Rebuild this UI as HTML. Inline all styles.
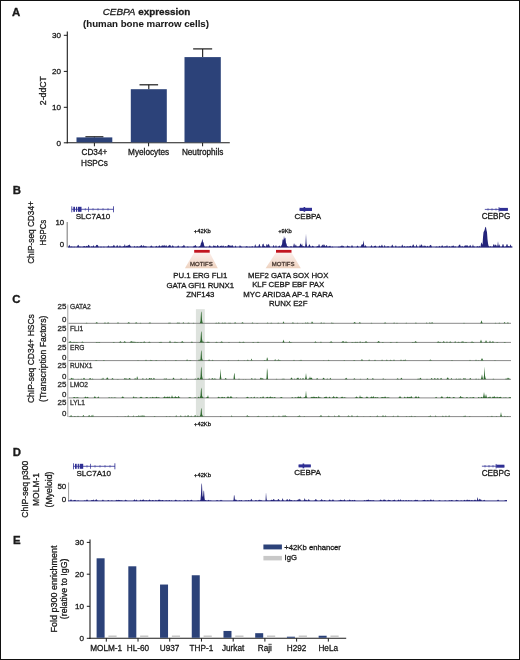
<!DOCTYPE html>
<html><head><meta charset="utf-8"><style>
html,body{margin:0;padding:0;background:#fff;}
body{position:relative;width:520px;height:660px;overflow:hidden;}
svg{display:block;font-family:"Liberation Sans", sans-serif;filter:blur(0.35px);}
#frame{position:absolute;left:0;top:0;width:518px;height:658px;border:1px solid #111;pointer-events:none;}
text{stroke:currentColor;stroke-width:0.3px;paint-order:stroke;}
text[font-weight=bold]{stroke-width:0.08px;}
text.pl{stroke-width:0.35px;}
</style></head><body>
<svg width="520" height="660" viewBox="0 0 520 660">
<defs><linearGradient id="mg" x1="0" y1="0" x2="0" y2="1"><stop offset="0" stop-color="#fcefec"/><stop offset="1" stop-color="#eed3c0"/></linearGradient></defs>
<text x="12.1" y="16.1" font-size="11.4" text-anchor="start" font-weight="bold" font-style="normal" fill="#1a1a1a" style="color:#1a1a1a" class="pl">A</text>
<text x="146.5" y="14.8" font-size="9.9" text-anchor="middle" fill="#1a1a1a" style="color:#1a1a1a"><tspan font-style="italic">CEBPA</tspan><tspan font-weight="bold"> expression</tspan></text>
<text x="146" y="26.6" font-size="9.7" text-anchor="middle" font-weight="bold" font-style="normal" fill="#1a1a1a" style="color:#1a1a1a" >(human bone marrow cells)</text>
<line x1="67.3" y1="31.5" x2="67.3" y2="143.3" stroke="#1a1a1a" stroke-width="1.1"/>
<line x1="63.8" y1="35.3" x2="67.3" y2="35.3" stroke="#1a1a1a" stroke-width="1"/>
<text x="61" y="38.3" font-size="8.1" text-anchor="end" font-weight="normal" font-style="normal" fill="#1a1a1a" style="color:#1a1a1a" >30</text>
<line x1="63.8" y1="71.4" x2="67.3" y2="71.4" stroke="#1a1a1a" stroke-width="1"/>
<text x="61" y="74.4" font-size="8.1" text-anchor="end" font-weight="normal" font-style="normal" fill="#1a1a1a" style="color:#1a1a1a" >20</text>
<line x1="63.8" y1="107.3" x2="67.3" y2="107.3" stroke="#1a1a1a" stroke-width="1"/>
<text x="61" y="110.3" font-size="8.1" text-anchor="end" font-weight="normal" font-style="normal" fill="#1a1a1a" style="color:#1a1a1a" >10</text>
<line x1="63.8" y1="142.8" x2="67.3" y2="142.8" stroke="#1a1a1a" stroke-width="1"/>
<text x="61" y="145.8" font-size="8.1" text-anchor="end" font-weight="normal" font-style="normal" fill="#1a1a1a" style="color:#1a1a1a" >0</text>
<line x1="66.8" y1="142.8" x2="229.8" y2="142.8" stroke="#1a1a1a" stroke-width="1.1"/>
<line x1="94.4" y1="142.8" x2="94.4" y2="146.3" stroke="#1a1a1a" stroke-width="1"/>
<line x1="148.6" y1="142.8" x2="148.6" y2="146.3" stroke="#1a1a1a" stroke-width="1"/>
<line x1="202.6" y1="142.8" x2="202.6" y2="146.3" stroke="#1a1a1a" stroke-width="1"/>
<text transform="translate(46.1,90.65) rotate(-90) scale(0.935,1)" font-size="9.3" text-anchor="middle" font-weight="normal" fill="#1a1a1a" style="color:#1a1a1a">2-ddCT</text>
<line x1="94.4" y1="136.8" x2="94.4" y2="137.4" stroke="#1a1a1a" stroke-width="1.1"/>
<line x1="85.4" y1="136.8" x2="103.4" y2="136.8" stroke="#1a1a1a" stroke-width="1.2"/>
<rect x="76.5" y="137.4" width="35.8" height="4.900000000000006" fill="#2c4279"/>
<line x1="148.8" y1="84.8" x2="148.8" y2="89.2" stroke="#1a1a1a" stroke-width="1.1"/>
<line x1="139.5" y1="84.8" x2="158.10000000000002" y2="84.8" stroke="#1a1a1a" stroke-width="1.2"/>
<rect x="130.8" y="89.2" width="36.0" height="53.10000000000001" fill="#2c4279"/>
<line x1="202.65" y1="48.9" x2="202.65" y2="57.1" stroke="#1a1a1a" stroke-width="1.1"/>
<line x1="193.15" y1="48.9" x2="212.15" y2="48.9" stroke="#1a1a1a" stroke-width="1.2"/>
<rect x="184.5" y="57.1" width="36.30000000000001" height="85.20000000000002" fill="#2c4279"/>
<text x="94.4" y="155.4" font-size="8.2" text-anchor="middle" font-weight="normal" font-style="normal" fill="#1a1a1a" style="color:#1a1a1a" >CD34+</text>
<text x="94.4" y="165.6" font-size="8.2" text-anchor="middle" font-weight="normal" font-style="normal" fill="#1a1a1a" style="color:#1a1a1a" >HSPCs</text>
<text x="148.6" y="155.4" font-size="8.2" text-anchor="middle" font-weight="normal" font-style="normal" fill="#1a1a1a" style="color:#1a1a1a" >Myelocytes</text>
<text x="202.6" y="155.4" font-size="8.2" text-anchor="middle" font-weight="normal" font-style="normal" fill="#1a1a1a" style="color:#1a1a1a" >Neutrophils</text>
<text x="12.8" y="193.7" font-size="11.4" text-anchor="start" font-weight="bold" font-style="normal" fill="#1a1a1a" style="color:#1a1a1a" class="pl">B</text>
<text transform="translate(34.0,232.5) rotate(-90) scale(0.91,1)" font-size="9.1" text-anchor="middle" font-weight="normal" fill="#1a1a1a" style="color:#1a1a1a">ChIP-seq CD34+</text>
<text transform="translate(46.1,232.6) rotate(-90) scale(0.86,1)" font-size="9.1" text-anchor="middle" font-weight="normal" fill="#1a1a1a" style="color:#1a1a1a">HSPCs</text>
<text x="64.2" y="225" font-size="7.8" text-anchor="end" font-weight="normal" font-style="normal" fill="#1a1a1a" style="color:#1a1a1a" >10</text>
<text x="64.2" y="246.9" font-size="7.8" text-anchor="end" font-weight="normal" font-style="normal" fill="#1a1a1a" style="color:#1a1a1a" >0</text>
<line x1="67.2" y1="222" x2="67.2" y2="247.5" stroke="#8a8a8a" stroke-width="1.2"/>
<line x1="71.8" y1="209.3" x2="113.5" y2="209.3" stroke="#2f2f94" stroke-width="0.8"/>
<rect x="71.4" y="206.3" width="0.7999999999999972" height="6" fill="#2f2f94"/>
<rect x="73.3" y="206.8" width="1.7000000000000028" height="5" fill="#2f2f94"/>
<rect x="76.0" y="206.8" width="1.2000000000000028" height="5" fill="#2f2f94"/>
<rect x="78.0" y="206.8" width="3.5" height="5" fill="#2f2f94"/>
<rect x="88.3" y="206.8" width="0.7000000000000028" height="5" fill="#2f2f94"/>
<rect x="113.0" y="206.3" width="0.7999999999999972" height="6" fill="#2f2f94"/>
<line x1="85.3" y1="208.10000000000002" x2="85.3" y2="210.5" stroke="#2f2f94" stroke-width="0.6"/>
<line x1="93" y1="208.10000000000002" x2="93" y2="210.5" stroke="#2f2f94" stroke-width="0.6"/>
<line x1="98" y1="208.10000000000002" x2="98" y2="210.5" stroke="#2f2f94" stroke-width="0.6"/>
<line x1="103" y1="208.10000000000002" x2="103" y2="210.5" stroke="#2f2f94" stroke-width="0.6"/>
<line x1="108" y1="208.10000000000002" x2="108" y2="210.5" stroke="#2f2f94" stroke-width="0.6"/>
<text x="93.0" y="218.7" font-size="8.1" text-anchor="middle" font-weight="normal" font-style="normal" fill="#1a1a1a" style="color:#1a1a1a" >SLC7A10</text>
<line x1="299.6" y1="209.4" x2="312.0" y2="209.4" stroke="#2f2f94" stroke-width="0.8"/>
<rect x="299.6" y="207.8" width="12.399999999999977" height="3.2" fill="#2f2f94"/>
<rect x="303.6" y="207.0" width="1.599999999999966" height="4.8" fill="#2f2f94"/>
<text x="307.8" y="218.6" font-size="8.0" text-anchor="middle" font-weight="normal" font-style="normal" fill="#1a1a1a" style="color:#1a1a1a" >CEBPA</text>
<line x1="484.8" y1="209.4" x2="507.9" y2="209.4" stroke="#2f2f94" stroke-width="0.8"/>
<rect x="499.2" y="207.9" width="8.699999999999989" height="3.0" fill="#2f2f94"/>
<rect x="498.6" y="207.15" width="0.7999999999999545" height="4.5" fill="#2f2f94"/>
<line x1="488" y1="208.20000000000002" x2="488" y2="210.6" stroke="#2f2f94" stroke-width="0.6"/>
<line x1="492" y1="208.20000000000002" x2="492" y2="210.6" stroke="#2f2f94" stroke-width="0.6"/>
<line x1="496" y1="208.20000000000002" x2="496" y2="210.6" stroke="#2f2f94" stroke-width="0.6"/>
<text x="496" y="219" font-size="8.2" text-anchor="middle" font-weight="normal" font-style="normal" fill="#1a1a1a" style="color:#1a1a1a" >CEBPG</text>
<text x="202.3" y="232.6" font-size="5.8" text-anchor="middle" font-weight="normal" font-style="normal" fill="#1a1a1a" style="color:#1a1a1a" >+42Kb</text>
<text x="285.0" y="232.6" font-size="5.8" text-anchor="middle" font-weight="normal" font-style="normal" fill="#1a1a1a" style="color:#1a1a1a" >+9Kb</text>
<path d="M68.0,247.20L68.0,247.15L68.5,246.70L69.0,245.35L69.5,244.87L70.0,246.20L70.5,247.05L71.0,246.83L71.5,246.42L72.0,246.59L72.5,247.03L73.0,247.18L73.5,247.04L74.0,246.66L74.5,246.73L75.0,247.10L75.5,247.19L76.0,247.19L76.5,247.09L77.0,246.66L77.5,245.65L78.0,244.72L78.5,244.96L79.0,246.06L79.5,246.87L80.0,247.15L80.5,246.71L81.0,246.59L81.5,247.13L82.0,247.18L82.5,246.95L83.0,246.42L83.5,246.47L84.0,245.90L84.5,245.99L85.0,246.62L85.5,246.90L86.0,246.19L86.5,245.70L87.0,246.22L87.5,246.58L88.0,245.54L88.5,244.66L89.0,244.96L89.5,246.07L90.0,246.88L90.5,247.15L91.0,247.00L91.5,246.28L92.0,246.32L92.5,246.96L93.0,245.93L93.5,245.12L94.0,246.16L94.5,247.04L95.0,247.10L95.5,246.65L96.0,245.57L96.5,244.71L97.0,245.22L97.5,244.83L98.0,245.57L98.5,246.81L99.0,247.17L99.5,247.19L100.0,247.11L100.5,246.85L101.0,246.64L101.5,246.82L102.0,247.09L102.5,247.19L103.0,247.15L103.5,246.87L104.0,246.61L104.5,246.92L105.0,247.16L105.5,247.20L106.0,247.20L106.5,247.14L107.0,246.78L107.5,246.57L108.0,246.66L108.5,245.18L109.0,245.84L109.5,247.04L110.0,247.04L110.5,246.67L111.0,246.38L111.5,246.61L112.0,246.71L112.5,246.57L113.0,246.35L113.5,245.15L114.0,244.70L114.5,245.68L115.0,246.73L115.5,247.13L116.0,246.98L116.5,246.15L117.0,245.04L117.5,245.28L118.0,246.47L118.5,247.08L119.0,247.02L119.5,246.01L120.0,245.11L120.5,246.22L121.0,246.96L121.5,246.65L122.0,246.69L122.5,246.91L123.0,246.22L123.5,246.07L124.0,246.77L124.5,244.76L125.0,244.22L125.5,246.71L126.0,246.33L126.5,245.63L127.0,245.71L127.5,245.89L128.0,244.89L128.5,245.14L129.0,245.62L129.5,244.32L130.0,245.28L130.5,246.08L131.0,246.84L131.5,247.14L132.0,247.19L132.5,247.20L133.0,247.20L133.5,247.17L134.0,246.68L134.5,245.87L135.0,246.73L135.5,247.18L136.0,247.05L136.5,246.68L137.0,246.28L137.5,246.36L138.0,246.81L138.5,247.10L139.0,246.80L139.5,246.45L140.0,246.53L140.5,245.80L141.0,245.62L141.5,245.07L142.0,245.46L142.5,247.01L143.0,245.69L143.5,244.89L144.0,246.52L144.5,245.86L145.0,246.88L145.5,246.18L146.0,245.66L146.5,246.84L147.0,247.19L147.5,247.20L148.0,247.20L148.5,247.20L149.0,247.20L149.5,247.19L150.0,247.07L150.5,246.45L151.0,245.44L151.5,245.54L152.0,246.57L152.5,246.76L153.0,246.85L153.5,247.05L154.0,247.16L154.5,247.19L155.0,247.11L155.5,246.74L156.0,246.02L156.5,245.77L157.0,246.39L157.5,246.98L158.0,246.99L158.5,246.39L159.0,245.48L159.5,245.23L160.0,245.98L160.5,246.79L161.0,246.83L161.5,246.02L162.0,245.16L162.5,245.27L163.0,246.21L163.5,245.65L164.0,244.84L164.5,245.29L165.0,246.39L165.5,246.08L166.0,244.97L166.5,245.43L167.0,246.64L167.5,247.06L168.0,246.47L168.5,245.62L169.0,245.78L169.5,245.06L170.0,244.66L170.5,245.59L171.0,246.66L171.5,247.06L172.0,246.39L172.5,245.34L173.0,245.47L173.5,246.56L174.0,247.10L174.5,247.19L175.0,247.13L175.5,246.91L176.0,246.73L176.5,246.89L177.0,247.11L177.5,246.53L178.0,245.45L178.5,245.55L179.0,246.64L179.5,247.13L180.0,247.20L180.5,247.20L181.0,247.15L181.5,246.91L182.0,246.38L182.5,246.16L183.0,246.58L183.5,245.37L184.0,244.84L184.5,245.87L185.0,246.87L185.5,247.16L186.0,247.20L186.5,247.18L187.0,247.02L187.5,246.54L188.0,246.42L188.5,246.90L189.0,247.16L189.5,247.20L190.0,247.20L190.5,247.20L191.0,247.20L191.5,247.20L192.0,247.20L192.5,247.20L193.0,247.11L193.5,246.44L194.0,245.53L194.5,246.25L195.0,245.35L195.5,245.00L196.0,245.84L196.5,246.76L197.0,247.13L197.5,247.18L198.0,247.15L198.5,247.06L199.0,246.88L199.5,246.23L200.0,245.89L200.5,245.36L201.0,242.86L201.5,242.50L202.0,240.42L202.5,238.63L203.0,242.24L203.5,242.30L204.0,244.80L204.5,246.57L205.0,246.88L205.5,247.06L206.0,247.11L206.5,246.68L207.0,246.90L207.5,247.18L208.0,247.20L208.5,247.12L209.0,246.62L209.5,245.57L210.0,245.36L210.5,246.38L211.0,247.06L211.5,246.77L212.0,246.97L212.5,247.18L213.0,246.76L213.5,245.29L214.0,245.45L214.5,246.34L215.0,245.44L215.5,246.00L216.0,246.93L216.5,246.73L217.0,245.87L217.5,245.08L218.0,245.31L218.5,246.26L219.0,246.94L219.5,247.09L220.0,246.28L220.5,245.85L221.0,246.02L221.5,245.31L222.0,246.66L222.5,246.18L223.0,245.28L223.5,245.86L224.0,246.85L224.5,246.97L225.0,246.44L225.5,245.95L226.0,246.18L226.5,246.79L227.0,247.12L227.5,246.28L228.0,244.70L228.5,245.21L229.0,244.81L229.5,245.86L230.0,245.50L230.5,245.61L231.0,246.39L231.5,245.87L232.0,244.93L232.5,245.26L233.0,246.37L233.5,247.02L234.0,247.18L234.5,247.13L235.0,246.39L235.5,245.37L236.0,246.40L236.5,247.13L237.0,247.20L237.5,247.20L238.0,247.20L238.5,247.20L239.0,247.15L239.5,246.28L240.0,244.70L240.5,246.28L241.0,246.34L241.5,246.64L242.0,247.00L242.5,247.16L243.0,247.20L243.5,247.20L244.0,247.20L244.5,247.20L245.0,247.17L245.5,247.01L246.0,246.59L246.5,246.15L247.0,246.21L247.5,246.69L248.0,247.06L248.5,247.18L249.0,247.08L249.5,246.75L250.0,246.65L250.5,246.98L251.0,247.17L251.5,247.06L252.0,246.01L252.5,246.19L253.0,247.12L253.5,247.20L254.0,247.18L254.5,246.71L255.0,244.51L255.5,244.61L256.0,246.76L256.5,246.93L257.0,246.31L257.5,246.73L258.0,247.02L258.5,246.16L259.0,244.43L259.5,243.87L260.0,245.38L260.5,246.75L261.0,247.15L261.5,247.19L262.0,246.78L262.5,244.14L263.0,244.08L263.5,243.62L264.0,245.92L264.5,245.85L265.0,246.53L265.5,247.04L266.0,246.40L266.5,244.59L267.0,243.85L267.5,245.52L268.0,245.19L268.5,243.87L269.0,244.21L269.5,245.75L270.0,246.82L270.5,247.15L271.0,247.20L271.5,247.20L272.0,247.20L272.5,247.16L273.0,246.46L273.5,244.82L274.0,245.73L274.5,247.03L275.0,247.16L275.5,246.16L276.0,244.66L276.5,246.59L277.0,247.19L277.5,247.19L278.0,247.06L278.5,246.55L279.0,245.67L279.5,245.40L280.0,246.14L280.5,246.89L281.0,246.71L281.5,245.11L282.0,244.62L282.5,240.20L283.0,239.10L283.5,240.57L284.0,235.70L284.5,239.18L285.0,237.40L285.5,238.20L286.0,242.94L286.5,243.71L287.0,245.91L287.5,246.37L288.0,246.71L288.5,246.93L289.0,247.06L289.5,247.14L290.0,247.02L290.5,246.52L291.0,246.11L291.5,246.46L292.0,246.99L292.5,247.18L293.0,246.95L293.5,245.20L294.0,243.20L294.5,244.37L295.0,246.73L295.5,245.03L296.0,244.56L296.5,246.36L297.0,246.84L297.5,246.47L298.0,246.51L298.5,246.67L299.0,245.90L299.5,246.36L300.0,244.49L300.5,243.20L301.0,244.49L301.5,245.54L302.0,243.20L302.5,245.73L303.0,246.67L303.5,246.12L304.0,246.26L304.5,246.85L305.0,246.99L305.5,243.27L306.0,233.70L306.5,243.27L307.0,245.86L307.5,246.96L308.0,246.99L308.5,246.20L309.0,244.75L309.5,244.17L310.0,245.31L310.5,246.60L311.0,247.11L311.5,246.90L312.0,246.29L312.5,245.71L313.0,245.86L313.5,246.54L314.0,247.02L314.5,247.17L315.0,247.20L315.5,247.20L316.0,247.14L316.5,246.86L317.0,246.24L317.5,245.95L318.0,246.43L318.5,245.61L319.0,243.85L319.5,244.95L320.0,246.72L320.5,247.16L321.0,246.88L321.5,246.06L322.0,245.36L322.5,245.34L323.0,244.37L323.5,244.86L324.0,246.15L324.5,244.32L325.0,245.62L325.5,246.70L326.0,245.69L326.5,244.98L327.0,245.62L327.5,246.66L328.0,247.11L328.5,246.41L329.0,246.33L329.5,246.29L330.0,245.59L330.5,246.15L331.0,246.95L331.5,247.16L332.0,246.80L332.5,246.40L333.0,246.89L333.5,247.18L334.0,247.20L334.5,247.20L335.0,247.20L335.5,247.20L336.0,247.20L336.5,247.20L337.0,247.19L337.5,247.14L338.0,246.98L338.5,246.75L339.0,246.67L339.5,246.86L340.0,247.08L340.5,246.59L341.0,246.08L341.5,246.28L342.0,244.70L342.5,246.28L343.0,246.15L343.5,245.72L344.0,247.01L344.5,247.20L345.0,247.20L345.5,247.20L346.0,247.19L346.5,247.03L347.0,246.14L347.5,245.18L348.0,246.00L348.5,246.77L349.0,245.67L349.5,246.71L350.0,247.19L350.5,247.20L351.0,247.04L351.5,245.95L352.0,244.70L352.5,245.95L353.0,247.04L353.5,247.20L354.0,247.20L354.5,247.20L355.0,247.20L355.5,247.20L356.0,247.19L356.5,247.04L357.0,246.34L357.5,245.50L358.0,245.99L358.5,246.89L359.0,247.17L359.5,247.19L360.0,247.15L360.5,246.88L361.0,246.10L361.5,244.86L362.0,244.20L362.5,244.86L363.0,243.70L363.5,240.20L364.0,243.70L364.5,246.76L365.0,246.11L365.5,245.02L366.0,245.85L366.5,246.94L367.0,247.18L367.5,247.20L368.0,247.20L368.5,247.20L369.0,247.20L369.5,247.20L370.0,247.19L370.5,247.02L371.0,246.11L371.5,245.12L372.0,245.98L372.5,246.98L373.0,247.17L373.5,246.94L374.0,246.29L374.5,246.12L375.0,245.75L375.5,245.46L376.0,246.31L376.5,247.01L377.0,247.18L377.5,247.20L378.0,247.18L378.5,247.01L379.0,246.25L379.5,245.38L380.0,245.82L380.5,246.78L381.0,246.60L381.5,245.31L382.0,244.62L382.5,245.68L383.0,246.81L383.5,247.16L384.0,246.92L384.5,245.04L385.0,245.58L385.5,247.08L386.0,247.17L386.5,246.92L387.0,246.35L387.5,246.39L388.0,246.46L388.5,246.08L389.0,246.97L389.5,247.19L390.0,247.20L390.5,247.20L391.0,247.12L391.5,246.28L392.0,244.70L392.5,244.77L393.0,246.03L393.5,246.98L394.0,247.18L394.5,247.20L395.0,247.09L395.5,245.87L396.0,245.23L396.5,246.84L397.0,247.14L397.5,246.98L398.0,246.76L398.5,246.72L399.0,246.90L399.5,246.51L400.0,246.53L400.5,246.97L401.0,247.13L401.5,246.45L402.0,244.77L402.5,244.68L403.0,246.37L403.5,247.11L404.0,246.68L404.5,245.87L405.0,246.38L405.5,247.08L406.0,247.08L406.5,246.69L407.0,246.14L407.5,246.19L408.0,246.75L408.5,246.80L409.0,246.17L409.5,246.62L410.0,245.99L410.5,245.82L411.0,246.36L411.5,246.92L412.0,246.69L412.5,245.59L413.0,244.40L413.5,244.49L414.0,245.74L414.5,246.76L415.0,247.13L415.5,247.04L416.0,245.75L416.5,244.27L417.0,245.92L417.5,247.08L418.0,247.20L418.5,247.20L419.0,247.15L419.5,246.10L420.0,244.20L420.5,246.10L421.0,245.38L421.5,244.29L422.0,244.84L422.5,246.23L423.0,247.00L423.5,246.28L424.0,245.22L424.5,245.76L425.0,246.78L425.5,245.51L426.0,246.20L426.5,247.11L427.0,246.86L427.5,245.83L428.0,245.94L428.5,246.94L429.0,247.04L429.5,246.21L430.0,244.92L430.5,245.23L431.0,244.70L431.5,246.28L432.0,247.15L432.5,247.20L433.0,247.20L433.5,247.20L434.0,247.20L434.5,247.20L435.0,247.16L435.5,247.00L436.0,246.69L436.5,246.50L437.0,246.69L437.5,247.00L438.0,247.16L438.5,247.11L439.0,246.49L439.5,245.87L440.0,246.62L440.5,247.14L441.0,247.02L441.5,246.32L442.0,245.36L442.5,245.57L443.0,246.58L443.5,247.10L444.0,246.91L444.5,246.47L445.0,246.16L445.5,246.36L446.0,246.81L446.5,246.28L447.0,244.70L447.5,246.28L448.0,247.15L448.5,247.06L449.0,246.50L449.5,246.10L450.0,246.65L450.5,247.11L451.0,247.18L451.5,246.59L452.0,245.39L452.5,246.45L453.0,245.52L453.5,245.59L454.0,246.54L454.5,246.89L455.0,246.31L455.5,246.50L456.0,247.05L456.5,247.19L457.0,247.20L457.5,247.18L458.0,247.00L458.5,246.14L459.0,244.87L459.5,245.04L460.0,244.20L460.5,246.10L461.0,247.15L461.5,246.74L462.0,245.77L462.5,246.21L463.0,247.04L463.5,247.10L464.0,246.73L464.5,245.90L465.0,245.15L465.5,245.37L466.0,246.26L466.5,245.40L467.0,244.86L467.5,245.54L468.0,246.56L468.5,246.75L469.0,246.55L469.5,246.28L470.0,244.70L470.5,245.21L471.0,246.52L471.5,247.12L472.0,247.13L472.5,245.87L473.0,244.20L473.5,246.37L474.0,246.84L474.5,246.52L475.0,246.88L475.5,247.16L476.0,247.20L476.5,247.06L477.0,246.20L477.5,246.04L478.0,246.99L478.5,246.93L479.0,245.76L479.5,246.08L480.0,247.07L480.5,246.91L481.0,243.50L481.5,242.14L482.0,243.68L482.5,244.71L483.0,237.20L483.5,232.20L484.0,231.20L484.5,230.20L485.0,228.20L485.5,226.70L486.0,227.20L486.5,230.20L487.0,232.20L487.5,239.20L488.0,243.20L488.5,245.65L489.0,245.98L489.5,246.92L490.0,246.71L490.5,246.18L491.0,246.36L491.5,246.93L492.0,247.17L492.5,246.91L493.0,245.68L493.5,244.07L494.0,244.66L494.5,245.90L495.0,243.87L495.5,245.16L496.0,245.02L496.5,245.44L497.0,246.64L497.5,244.99L498.0,241.20L498.5,244.99L499.0,246.35L499.5,244.10L500.0,245.88L500.5,247.14L501.0,247.18L501.5,246.87L502.0,246.47L502.5,244.83L503.0,243.70L503.5,244.83L504.0,246.47L504.5,247.10L505.0,246.98L505.5,246.56L506.0,246.18L506.5,244.63L507.0,243.70L507.5,244.63L508.0,246.18L508.5,246.07L509.0,246.29L509.5,246.85L510.0,245.70L510.5,244.20L511.0,245.51L511.5,246.52L512.0,247.13L512.5,247.20L512.5,247.20Z" fill="#23237a"/>
<line x1="68" y1="247.0" x2="512.5" y2="247.0" stroke="#23237a" stroke-width="1.2"/>
<polygon points="194.2,252.6 209.7,252.6 217.8,268.2 184.9,268.2" fill="url(#mg)"/>
<rect x="194.2" y="249.9" width="15.5" height="2.8" fill="#c2141f"/>
<text x="201.35000000000002" y="266.0" font-size="6.0" text-anchor="middle" font-weight="normal" font-style="normal" fill="#4a3b33" style="color:#4a3b33" >MOTIFS</text>
<text x="200.3" y="278.4" font-size="7.8" text-anchor="middle" font-weight="normal" font-style="normal" fill="#1a1a1a" style="color:#1a1a1a" >PU.1 ERG FLI1</text>
<text x="200.3" y="287.75" font-size="7.8" text-anchor="middle" font-weight="normal" font-style="normal" fill="#1a1a1a" style="color:#1a1a1a" >GATA GFI1 RUNX1</text>
<text x="200.3" y="297.09999999999997" font-size="7.8" text-anchor="middle" font-weight="normal" font-style="normal" fill="#1a1a1a" style="color:#1a1a1a" >ZNF143</text>
<polygon points="276.0,252.6 291.5,252.6 300.8,268.2 265.6,268.2" fill="url(#mg)"/>
<rect x="276.0" y="249.9" width="15.5" height="2.8" fill="#c2141f"/>
<text x="283.20000000000005" y="266.0" font-size="6.0" text-anchor="middle" font-weight="normal" font-style="normal" fill="#4a3b33" style="color:#4a3b33" >MOTIFS</text>
<text x="288.2" y="277.8" font-size="7.8" text-anchor="middle" font-weight="normal" font-style="normal" fill="#1a1a1a" style="color:#1a1a1a" >MEF2 GATA SOX HOX</text>
<text x="288.2" y="287.15000000000003" font-size="7.8" text-anchor="middle" font-weight="normal" font-style="normal" fill="#1a1a1a" style="color:#1a1a1a" >KLF CEBP EBF PAX</text>
<text x="288.2" y="296.5" font-size="7.8" text-anchor="middle" font-weight="normal" font-style="normal" fill="#1a1a1a" style="color:#1a1a1a" >MYC ARID3A AP-1 RARA</text>
<text x="288.2" y="305.85" font-size="7.8" text-anchor="middle" font-weight="normal" font-style="normal" fill="#1a1a1a" style="color:#1a1a1a" >RUNX E2F</text>
<text x="12.3" y="302.7" font-size="11.4" text-anchor="start" font-weight="bold" font-style="normal" fill="#1a1a1a" style="color:#1a1a1a" class="pl">C</text>
<text transform="translate(33.7,358.6) rotate(-90) scale(0.893,1)" font-size="9.5" text-anchor="middle" font-weight="normal" fill="#1a1a1a" style="color:#1a1a1a">ChIP-seq CD34+ HSCs</text>
<text transform="translate(45.6,358.8) rotate(-90) scale(0.908,1)" font-size="9.5" text-anchor="middle" font-weight="normal" fill="#1a1a1a" style="color:#1a1a1a">(Transcription Factors)</text>
<rect x="195.9" y="309.2" width="8.9" height="107.8" fill="#dde2dd"/>
<line x1="67.8" y1="304.5" x2="67.8" y2="417" stroke="#9a9a9a" stroke-width="0.9"/>
<text x="66.4" y="309.2" font-size="7.9" text-anchor="end" font-weight="normal" font-style="normal" fill="#2a2a2a" style="color:#2a2a2a" >25</text>
<text x="66.4" y="321.5" font-size="7.9" text-anchor="end" font-weight="normal" font-style="normal" fill="#2a2a2a" style="color:#2a2a2a" >0</text>
<text x="70.0" y="309.2" font-size="6.6" text-anchor="start" font-weight="normal" font-style="normal" fill="#333" style="color:#333" >GATA2</text>
<line x1="68.5" y1="323.3" x2="511" y2="323.3" stroke="#8a8a8a" stroke-width="1.0"/>
<path d="M68.5,323.30L68.5,323.30L69.0,323.30L69.5,323.30L70.0,323.30L70.5,323.30L71.0,323.30L71.5,323.30L72.0,323.30L72.5,323.30L73.0,323.30L73.5,323.30L74.0,323.30L74.5,323.30L75.0,323.30L75.5,323.30L76.0,323.30L76.5,323.30L77.0,323.30L77.5,323.30L78.0,323.30L78.5,323.30L79.0,323.30L79.5,323.30L80.0,323.30L80.5,323.30L81.0,323.30L81.5,323.30L82.0,323.30L82.5,323.30L83.0,323.30L83.5,323.30L84.0,323.30L84.5,323.30L85.0,323.30L85.5,323.28L86.0,323.12L86.5,322.77L87.0,322.87L87.5,323.21L88.0,323.29L88.5,323.30L89.0,323.30L89.5,323.30L90.0,323.30L90.5,323.30L91.0,323.30L91.5,323.30L92.0,323.30L92.5,323.30L93.0,323.30L93.5,323.30L94.0,323.30L94.5,323.30L95.0,323.30L95.5,323.14L96.0,322.44L96.5,322.62L97.0,321.80L97.5,322.99L98.0,323.30L98.5,323.30L99.0,323.30L99.5,323.30L100.0,323.30L100.5,323.30L101.0,323.30L101.5,323.30L102.0,323.30L102.5,323.30L103.0,323.30L103.5,323.27L104.0,323.10L104.5,322.69L105.0,322.51L105.5,322.86L106.0,323.19L106.5,323.26L107.0,323.11L107.5,322.76L108.0,322.43L108.5,322.51L109.0,322.90L109.5,323.18L110.0,323.28L110.5,323.30L111.0,323.30L111.5,323.30L112.0,323.30L112.5,323.30L113.0,323.30L113.5,323.30L114.0,323.30L114.5,323.30L115.0,323.30L115.5,323.30L116.0,323.30L116.5,323.30L117.0,323.30L117.5,322.99L118.0,321.80L118.5,322.99L119.0,323.30L119.5,323.30L120.0,323.30L120.5,323.30L121.0,323.30L121.5,323.30L122.0,323.30L122.5,323.30L123.0,323.30L123.5,323.30L124.0,323.30L124.5,323.30L125.0,323.30L125.5,323.30L126.0,323.30L126.5,323.30L127.0,323.26L127.5,323.08L128.0,322.63L128.5,322.18L129.0,322.28L129.5,322.79L130.0,323.16L130.5,323.28L131.0,323.30L131.5,323.30L132.0,323.30L132.5,323.30L133.0,323.30L133.5,323.30L134.0,323.30L134.5,323.28L135.0,323.14L135.5,322.77L136.0,322.34L136.5,322.40L137.0,322.86L137.5,323.19L138.0,323.28L138.5,323.30L139.0,323.29L139.5,323.19L140.0,322.96L140.5,322.87L141.0,323.08L141.5,323.25L142.0,323.30L142.5,323.30L143.0,323.30L143.5,323.30L144.0,323.30L144.5,323.30L145.0,323.30L145.5,323.30L146.0,323.30L146.5,323.30L147.0,323.30L147.5,323.30L148.0,323.30L148.5,323.20L149.0,322.85L149.5,322.94L150.0,321.80L150.5,322.99L151.0,323.30L151.5,323.30L152.0,323.30L152.5,323.30L153.0,323.30L153.5,323.30L154.0,323.30L154.5,323.30L155.0,323.30L155.5,323.30L156.0,323.30L156.5,323.30L157.0,323.30L157.5,323.30L158.0,323.30L158.5,323.30L159.0,323.30L159.5,323.30L160.0,323.30L160.5,323.30L161.0,323.30L161.5,323.30L162.0,323.30L162.5,323.30L163.0,323.30L163.5,323.30L164.0,323.30L164.5,323.30L165.0,323.30L165.5,323.30L166.0,323.30L166.5,323.30L167.0,323.30L167.5,323.29L168.0,323.19L168.5,322.82L169.0,322.83L169.5,322.89L170.0,322.32L170.5,322.95L171.0,323.28L171.5,323.30L172.0,323.30L172.5,323.30L173.0,323.30L173.5,323.30L174.0,323.30L174.5,323.30L175.0,323.30L175.5,323.30L176.0,323.30L176.5,323.25L177.0,322.83L177.5,322.38L178.0,322.90L178.5,322.63L179.0,322.55L179.5,322.84L180.0,323.15L180.5,323.27L181.0,323.30L181.5,323.30L182.0,323.30L182.5,323.20L183.0,322.58L183.5,322.35L184.0,323.07L184.5,323.29L185.0,323.30L185.5,323.30L186.0,323.30L186.5,323.29L187.0,323.25L187.5,323.10L188.0,322.80L188.5,322.63L189.0,322.80L189.5,323.09L190.0,323.25L190.5,323.29L191.0,323.30L191.5,323.30L192.0,323.30L192.5,323.28L193.0,323.11L193.5,322.83L194.0,323.02L194.5,323.26L195.0,323.30L195.5,323.30L196.0,323.30L196.5,323.30L197.0,323.30L197.5,323.30L198.0,323.30L198.5,323.30L199.0,323.27L199.5,323.13L200.0,322.68L200.5,321.02L201.0,312.79L201.5,311.22L202.0,319.84L202.5,322.54L203.0,323.07L203.5,323.25L204.0,323.29L204.5,323.30L205.0,323.30L205.5,323.30L206.0,323.30L206.5,323.30L207.0,323.30L207.5,323.30L208.0,323.30L208.5,323.30L209.0,323.30L209.5,323.30L210.0,323.30L210.5,323.30L211.0,323.30L211.5,323.30L212.0,323.30L212.5,323.30L213.0,323.30L213.5,323.30L214.0,323.30L214.5,323.29L215.0,323.26L215.5,323.10L216.0,322.85L216.5,322.77L217.0,322.97L217.5,323.20L218.0,322.93L218.5,322.43L219.0,322.43L219.5,322.93L220.0,323.23L220.5,323.29L221.0,323.27L221.5,323.14L222.0,322.85L222.5,322.63L223.0,322.78L223.5,323.09L224.0,323.21L224.5,322.86L225.0,322.55L225.5,322.86L226.0,323.21L226.5,323.29L227.0,323.30L227.5,323.30L228.0,323.29L228.5,323.04L229.0,322.50L229.5,323.07L230.0,322.92L230.5,322.83L231.0,323.06L231.5,323.25L232.0,323.29L232.5,323.30L233.0,323.30L233.5,323.28L234.0,323.14L234.5,322.65L235.0,322.22L235.5,322.58L236.0,323.11L236.5,323.28L237.0,323.30L237.5,323.30L238.0,323.30L238.5,323.30L239.0,323.30L239.5,323.30L240.0,323.30L240.5,323.29L241.0,323.24L241.5,323.00L242.0,322.49L242.5,322.15L243.0,322.46L243.5,322.98L244.0,323.24L244.5,323.29L245.0,323.30L245.5,323.30L246.0,323.30L246.5,323.30L247.0,323.30L247.5,323.30L248.0,323.30L248.5,323.30L249.0,323.30L249.5,323.30L250.0,323.30L250.5,323.30L251.0,323.29L251.5,323.18L252.0,322.78L252.5,322.44L253.0,322.76L253.5,323.17L254.0,323.29L254.5,323.30L255.0,323.30L255.5,323.29L256.0,323.23L256.5,323.07L257.0,322.88L257.5,322.90L258.0,323.09L258.5,323.24L259.0,323.29L259.5,323.30L260.0,323.30L260.5,323.30L261.0,323.30L261.5,323.30L262.0,323.30L262.5,323.30L263.0,323.30L263.5,323.30L264.0,323.30L264.5,323.30L265.0,323.30L265.5,323.30L266.0,323.30L266.5,323.27L267.0,322.95L267.5,322.39L268.0,322.80L268.5,323.24L269.0,323.30L269.5,323.27L270.0,323.14L270.5,322.88L271.0,322.70L271.5,322.85L272.0,323.12L272.5,323.26L273.0,323.30L273.5,323.30L274.0,323.30L274.5,323.30L275.0,323.30L275.5,323.30L276.0,323.30L276.5,323.29L277.0,323.24L277.5,323.03L278.0,322.68L278.5,322.63L279.0,322.94L279.5,323.21L280.0,323.29L280.5,323.30L281.0,323.30L281.5,323.30L282.0,323.30L282.5,323.26L283.0,322.56L283.5,321.30L284.0,322.56L284.5,323.24L285.0,323.30L285.5,323.30L286.0,323.30L286.5,323.30L287.0,323.30L287.5,323.30L288.0,323.30L288.5,323.30L289.0,323.30L289.5,323.30L290.0,323.30L290.5,323.30L291.0,323.29L291.5,323.23L292.0,323.00L292.5,322.61L293.0,322.41L293.5,322.65L294.0,323.03L294.5,323.24L295.0,323.29L295.5,323.30L296.0,323.30L296.5,323.28L297.0,323.05L297.5,322.66L298.0,322.97L298.5,323.27L299.0,323.30L299.5,323.30L300.0,323.30L300.5,323.30L301.0,323.30L301.5,323.29L302.0,323.18L302.5,322.90L303.0,323.00L303.5,323.25L304.0,323.30L304.5,323.30L305.0,323.22L305.5,322.60L306.0,322.46L306.5,323.17L307.0,322.99L307.5,322.41L308.0,322.57L308.5,323.12L309.0,323.29L309.5,323.30L310.0,323.30L310.5,323.30L311.0,323.26L311.5,322.56L312.0,321.30L312.5,322.22L313.0,322.70L313.5,323.27L314.0,323.30L314.5,323.30L315.0,323.30L315.5,323.30L316.0,323.30L316.5,323.30L317.0,323.30L317.5,323.30L318.0,323.30L318.5,323.30L319.0,323.30L319.5,323.29L320.0,323.22L320.5,322.89L321.0,322.42L321.5,322.55L322.0,323.04L322.5,323.26L323.0,323.24L323.5,322.88L324.0,322.54L324.5,322.94L325.0,323.26L325.5,323.30L326.0,323.30L326.5,323.30L327.0,323.30L327.5,323.30L328.0,323.30L328.5,323.30L329.0,323.30L329.5,323.30L330.0,323.30L330.5,323.30L331.0,323.15L331.5,322.53L332.0,322.77L332.5,323.09L333.0,322.86L333.5,322.90L334.0,323.15L334.5,323.28L335.0,323.30L335.5,323.30L336.0,323.30L336.5,323.30L337.0,323.30L337.5,323.30L338.0,323.30L338.5,323.30L339.0,323.30L339.5,323.30L340.0,323.30L340.5,323.30L341.0,323.30L341.5,323.30L342.0,323.30L342.5,323.30L343.0,323.30L343.5,323.30L344.0,323.30L344.5,323.30L345.0,323.30L345.5,323.30L346.0,323.30L346.5,323.30L347.0,323.30L347.5,323.30L348.0,323.30L348.5,323.30L349.0,323.30L349.5,323.30L350.0,323.30L350.5,323.30L351.0,323.30L351.5,323.30L352.0,323.30L352.5,323.30L353.0,323.26L353.5,323.07L354.0,322.59L354.5,322.09L355.0,322.16L355.5,322.70L356.0,323.13L356.5,323.27L357.0,323.30L357.5,323.30L358.0,323.30L358.5,323.23L359.0,322.90L359.5,322.32L360.0,322.27L360.5,322.84L361.0,323.21L361.5,323.29L362.0,323.30L362.5,323.30L363.0,323.30L363.5,323.30L364.0,323.30L364.5,323.30L365.0,323.30L365.5,323.30L366.0,323.30L366.5,323.30L367.0,323.30L367.5,323.30L368.0,323.30L368.5,323.30L369.0,323.30L369.5,323.30L370.0,323.30L370.5,323.27L371.0,323.10L371.5,322.84L372.0,322.93L372.5,323.19L373.0,323.29L373.5,323.30L374.0,323.30L374.5,323.30L375.0,323.30L375.5,323.30L376.0,323.30L376.5,323.30L377.0,323.30L377.5,323.30L378.0,323.30L378.5,323.30L379.0,323.30L379.5,323.30L380.0,323.30L380.5,323.30L381.0,323.30L381.5,323.30L382.0,323.30L382.5,323.30L383.0,323.30L383.5,323.27L384.0,323.10L384.5,322.71L385.0,322.40L385.5,322.59L386.0,323.01L386.5,323.24L387.0,323.29L387.5,323.30L388.0,323.30L388.5,323.30L389.0,323.30L389.5,323.30L390.0,323.30L390.5,323.30L391.0,323.30L391.5,323.30L392.0,323.30L392.5,323.30L393.0,323.26L393.5,323.00L394.0,322.56L394.5,322.69L395.0,323.13L395.5,323.28L396.0,323.22L396.5,322.94L397.0,322.72L397.5,323.00L398.0,323.25L398.5,323.30L399.0,323.30L399.5,323.30L400.0,323.30L400.5,323.30L401.0,323.30L401.5,323.30L402.0,323.30L402.5,323.30L403.0,323.30L403.5,323.30L404.0,323.30L404.5,323.30L405.0,323.30L405.5,323.20L406.0,322.68L406.5,322.73L407.0,323.23L407.5,323.30L408.0,323.30L408.5,323.30L409.0,323.30L409.5,323.30L410.0,323.30L410.5,323.30L411.0,323.30L411.5,323.30L412.0,323.30L412.5,323.30L413.0,323.30L413.5,323.30L414.0,323.30L414.5,323.30L415.0,323.26L415.5,322.85L416.0,322.49L416.5,323.04L417.0,323.29L417.5,323.30L418.0,323.30L418.5,323.30L419.0,323.30L419.5,323.30L420.0,323.30L420.5,323.30L421.0,323.30L421.5,323.30L422.0,323.30L422.5,323.30L423.0,323.30L423.5,323.30L424.0,323.30L424.5,323.30L425.0,323.30L425.5,323.30L426.0,323.18L426.5,322.38L427.0,322.64L427.5,323.26L428.0,323.30L428.5,323.29L429.0,323.15L429.5,322.53L430.0,322.41L430.5,323.06L431.0,323.07L431.5,322.67L432.0,322.36L432.5,322.51L433.0,322.94L433.5,323.21L434.0,323.29L434.5,323.30L435.0,323.30L435.5,323.30L436.0,323.30L436.5,323.30L437.0,323.30L437.5,323.30L438.0,323.30L438.5,323.30L439.0,323.30L439.5,323.30L440.0,323.30L440.5,323.30L441.0,323.30L441.5,323.30L442.0,323.30L442.5,323.30L443.0,323.30L443.5,323.30L444.0,323.30L444.5,323.30L445.0,323.30L445.5,323.30L446.0,323.30L446.5,323.30L447.0,323.30L447.5,323.30L448.0,323.30L448.5,323.30L449.0,323.30L449.5,323.30L450.0,323.30L450.5,323.30L451.0,323.30L451.5,323.30L452.0,323.30L452.5,323.30L453.0,323.30L453.5,323.30L454.0,323.30L454.5,323.30L455.0,323.30L455.5,323.30L456.0,323.30L456.5,323.30L457.0,323.30L457.5,323.30L458.0,323.30L458.5,323.30L459.0,323.30L459.5,323.30L460.0,323.30L460.5,323.30L461.0,323.30L461.5,323.30L462.0,323.30L462.5,323.28L463.0,323.16L463.5,322.94L464.0,322.87L464.5,323.06L465.0,323.24L465.5,323.29L466.0,323.30L466.5,323.30L467.0,323.30L467.5,323.30L468.0,323.30L468.5,323.30L469.0,323.30L469.5,323.30L470.0,323.30L470.5,323.30L471.0,323.30L471.5,323.30L472.0,323.30L472.5,323.30L473.0,323.30L473.5,323.30L474.0,323.30L474.5,323.30L475.0,323.30L475.5,323.30L476.0,323.30L476.5,323.30L477.0,323.30L477.5,323.30L478.0,323.30L478.5,323.30L479.0,323.30L479.5,323.30L480.0,323.29L480.5,323.11L481.0,321.80L481.5,320.30L482.0,321.80L482.5,323.11L483.0,323.29L483.5,323.30L484.0,323.30L484.5,323.30L485.0,323.30L485.5,323.30L486.0,323.30L486.5,323.30L487.0,323.30L487.5,323.30L488.0,323.30L488.5,323.30L489.0,323.30L489.5,323.30L490.0,323.30L490.5,323.30L491.0,323.30L491.5,323.30L492.0,323.30L492.5,323.30L493.0,323.30L493.5,323.30L494.0,323.30L494.5,323.28L495.0,323.09L495.5,322.77L496.0,322.96L496.5,323.24L497.0,323.30L497.5,323.30L498.0,323.28L498.5,323.15L499.0,322.85L499.5,322.82L500.0,323.12L500.5,323.28L501.0,323.30L501.5,323.30L502.0,323.30L502.5,323.30L503.0,323.30L503.5,323.26L504.0,322.86L504.5,322.05L505.0,322.45L505.5,323.16L506.0,323.29L506.5,323.27L507.0,323.08L507.5,322.60L508.0,322.42L508.5,322.85L509.0,323.21L509.5,323.29L510.0,323.30L510.5,323.30L511.0,323.30L511.0,323.30Z" fill="#306a30"/>
<text x="66.4" y="331.3" font-size="7.9" text-anchor="end" font-weight="normal" font-style="normal" fill="#2a2a2a" style="color:#2a2a2a" >25</text>
<text x="66.4" y="342.0" font-size="7.9" text-anchor="end" font-weight="normal" font-style="normal" fill="#2a2a2a" style="color:#2a2a2a" >0</text>
<text x="70.0" y="331.3" font-size="6.6" text-anchor="start" font-weight="normal" font-style="normal" fill="#333" style="color:#333" >FLI1</text>
<line x1="68.5" y1="342.4" x2="511" y2="342.4" stroke="#8a8a8a" stroke-width="1.0"/>
<path d="M68.5,342.40L68.5,342.36L69.0,342.19L69.5,341.70L70.0,341.13L70.5,341.14L71.0,341.71L71.5,342.20L72.0,342.37L72.5,342.37L73.0,342.23L73.5,341.90L74.0,341.71L74.5,341.97L75.0,342.28L75.5,342.33L76.0,342.14L76.5,341.93L77.0,341.99L77.5,342.22L78.0,342.36L78.5,342.40L79.0,342.40L79.5,342.40L80.0,342.40L80.5,342.40L81.0,342.40L81.5,342.31L82.0,341.86L82.5,341.59L83.0,342.10L83.5,342.37L84.0,342.40L84.5,342.40L85.0,342.40L85.5,342.40L86.0,342.40L86.5,342.40L87.0,342.40L87.5,342.40L88.0,342.40L88.5,342.40L89.0,342.40L89.5,342.40L90.0,342.40L90.5,342.40L91.0,342.40L91.5,342.40L92.0,342.40L92.5,342.40L93.0,342.40L93.5,342.40L94.0,342.40L94.5,342.40L95.0,342.40L95.5,342.38L96.0,342.28L96.5,342.07L97.0,341.99L97.5,342.16L98.0,342.34L98.5,342.36L99.0,342.00L99.5,341.91L100.0,342.33L100.5,342.40L101.0,342.40L101.5,342.40L102.0,342.40L102.5,342.40L103.0,342.40L103.5,342.40L104.0,342.40L104.5,342.40L105.0,342.40L105.5,342.40L106.0,342.40L106.5,342.40L107.0,342.40L107.5,342.40L108.0,342.40L108.5,342.40L109.0,342.40L109.5,342.40L110.0,342.40L110.5,342.40L111.0,342.40L111.5,342.40L112.0,342.40L112.5,342.40L113.0,342.35L113.5,342.11L114.0,341.98L114.5,342.23L115.0,342.38L115.5,342.40L116.0,342.40L116.5,342.40L117.0,342.40L117.5,342.40L118.0,342.40L118.5,342.39L119.0,342.32L119.5,342.01L120.0,341.48L120.5,341.33L121.0,341.79L121.5,342.23L122.0,342.38L122.5,342.40L123.0,342.39L123.5,342.28L124.0,341.86L124.5,341.30L125.0,341.33L125.5,341.91L126.0,342.29L126.5,342.39L127.0,342.40L127.5,342.40L128.0,342.40L128.5,342.40L129.0,342.40L129.5,342.36L130.0,342.17L130.5,341.65L131.0,341.10L131.5,341.20L132.0,341.81L132.5,341.79L133.0,341.45L133.5,341.73L134.0,342.17L134.5,341.86L135.0,341.73L135.5,341.98L136.0,342.26L136.5,342.31L137.0,342.13L137.5,341.92L138.0,341.92L138.5,342.13L139.0,342.31L139.5,342.38L140.0,342.31L140.5,342.08L141.0,341.90L141.5,342.07L142.0,342.30L142.5,342.38L143.0,342.25L143.5,341.88L144.0,341.43L144.5,341.46L145.0,341.92L145.5,342.27L146.0,342.38L146.5,342.40L147.0,342.40L147.5,342.40L148.0,342.37L148.5,342.21L149.0,341.87L149.5,341.74L150.0,342.04L150.5,342.31L151.0,342.39L151.5,342.40L152.0,342.40L152.5,342.40L153.0,342.40L153.5,342.40L154.0,342.40L154.5,342.40L155.0,342.40L155.5,342.40L156.0,342.40L156.5,342.40L157.0,342.40L157.5,342.40L158.0,342.40L158.5,342.40L159.0,342.32L159.5,341.99L160.0,342.07L160.5,341.95L161.0,341.63L161.5,341.96L162.0,342.32L162.5,342.39L163.0,342.40L163.5,342.40L164.0,342.40L164.5,342.40L165.0,342.40L165.5,342.40L166.0,342.40L166.5,342.40L167.0,342.40L167.5,342.40L168.0,342.40L168.5,342.40L169.0,342.37L169.5,341.74L170.0,340.60L170.5,341.74L171.0,342.37L171.5,342.40L172.0,342.40L172.5,342.40L173.0,342.40L173.5,342.39L174.0,342.30L174.5,341.90L175.0,341.57L175.5,341.93L176.0,342.15L176.5,341.98L177.0,341.99L177.5,342.17L178.0,342.33L178.5,342.39L179.0,342.40L179.5,342.40L180.0,342.40L180.5,342.37L181.0,342.22L181.5,341.82L182.0,341.36L182.5,341.37L183.0,341.83L183.5,342.22L184.0,342.37L184.5,342.40L185.0,342.40L185.5,342.40L186.0,342.40L186.5,342.40L187.0,342.40L187.5,342.40L188.0,342.40L188.5,342.40L189.0,342.40L189.5,342.40L190.0,342.40L190.5,342.40L191.0,342.35L191.5,341.86L192.0,341.41L192.5,342.11L193.0,342.39L193.5,342.40L194.0,342.40L194.5,342.40L195.0,342.40L195.5,342.40L196.0,342.40L196.5,342.40L197.0,342.40L197.5,342.40L198.0,342.40L198.5,342.40L199.0,342.36L199.5,342.19L200.0,341.66L200.5,340.24L201.0,332.43L201.5,330.95L202.0,339.12L202.5,341.49L203.0,341.63L203.5,341.39L204.0,342.19L204.5,342.39L205.0,342.40L205.5,342.40L206.0,342.39L206.5,342.33L207.0,342.13L207.5,341.84L208.0,341.83L208.5,342.11L209.0,341.81L209.5,342.15L210.0,342.38L210.5,342.40L211.0,342.40L211.5,342.40L212.0,342.40L212.5,342.40L213.0,342.40L213.5,342.40L214.0,342.40L214.5,342.40L215.0,342.40L215.5,342.35L216.0,342.12L216.5,341.83L217.0,341.96L217.5,342.27L218.0,342.39L218.5,342.40L219.0,342.40L219.5,342.40L220.0,342.37L220.5,342.21L221.0,341.83L221.5,341.45L222.0,341.52L222.5,341.95L223.0,342.27L223.5,342.38L224.0,342.40L224.5,342.40L225.0,342.40L225.5,342.40L226.0,342.40L226.5,342.40L227.0,342.40L227.5,342.40L228.0,342.39L228.5,342.22L229.0,341.89L229.5,342.25L230.0,342.40L230.5,342.40L231.0,342.40L231.5,342.40L232.0,342.40L232.5,342.40L233.0,342.40L233.5,342.40L234.0,342.40L234.5,342.40L235.0,342.40L235.5,342.40L236.0,342.40L236.5,342.40L237.0,342.40L237.5,342.40L238.0,342.40L238.5,342.38L239.0,342.21L239.5,341.83L240.0,341.76L240.5,342.13L241.0,342.36L241.5,342.39L242.0,342.35L242.5,342.15L243.0,341.83L243.5,341.81L244.0,342.11L244.5,342.33L245.0,342.39L245.5,342.40L246.0,342.40L246.5,342.40L247.0,342.40L247.5,342.40L248.0,342.40L248.5,342.40L249.0,342.40L249.5,342.40L250.0,342.40L250.5,342.40L251.0,342.40L251.5,342.40L252.0,342.39L252.5,342.31L253.0,342.04L253.5,342.03L254.0,342.30L254.5,342.39L255.0,342.40L255.5,342.40L256.0,342.40L256.5,342.40L257.0,342.34L257.5,342.08L258.0,341.84L258.5,342.07L259.0,342.34L259.5,342.40L260.0,342.40L260.5,342.40L261.0,342.40L261.5,342.40L262.0,342.40L262.5,342.40L263.0,342.40L263.5,342.40L264.0,342.40L264.5,342.40L265.0,342.40L265.5,342.40L266.0,342.40L266.5,342.40L267.0,342.40L267.5,342.40L268.0,342.40L268.5,342.40L269.0,342.40L269.5,342.40L270.0,342.40L270.5,342.40L271.0,342.40L271.5,342.40L272.0,342.40L272.5,342.40L273.0,342.40L273.5,342.40L274.0,342.40L274.5,342.40L275.0,342.40L275.5,342.40L276.0,342.40L276.5,342.40L277.0,342.40L277.5,342.40L278.0,342.40L278.5,342.40L279.0,342.40L279.5,342.40L280.0,342.40L280.5,342.40L281.0,342.40L281.5,342.40L282.0,342.40L282.5,342.35L283.0,341.30L283.5,339.40L284.0,341.30L284.5,342.34L285.0,342.40L285.5,342.40L286.0,342.40L286.5,342.40L287.0,342.40L287.5,342.40L288.0,342.40L288.5,342.38L289.0,341.87L289.5,341.06L290.0,342.04L290.5,341.88L291.0,341.96L291.5,342.19L292.0,342.34L292.5,342.39L293.0,342.40L293.5,342.40L294.0,342.40L294.5,342.40L295.0,342.40L295.5,342.40L296.0,342.40L296.5,342.40L297.0,342.40L297.5,342.40L298.0,342.40L298.5,342.40L299.0,342.40L299.5,342.40L300.0,342.40L300.5,342.40L301.0,342.40L301.5,342.40L302.0,342.40L302.5,342.40L303.0,342.40L303.5,342.40L304.0,342.40L304.5,342.40L305.0,342.40L305.5,342.40L306.0,342.40L306.5,342.40L307.0,342.40L307.5,342.40L308.0,342.40L308.5,342.40L309.0,342.40L309.5,342.40L310.0,342.40L310.5,342.40L311.0,342.40L311.5,342.40L312.0,342.40L312.5,342.40L313.0,342.40L313.5,342.40L314.0,342.40L314.5,342.30L315.0,341.72L315.5,341.33L316.0,341.99L316.5,342.36L317.0,342.40L317.5,342.40L318.0,342.40L318.5,342.40L319.0,342.40L319.5,342.40L320.0,342.38L320.5,342.01L321.0,341.58L321.5,342.20L322.0,342.39L322.5,342.40L323.0,342.40L323.5,342.40L324.0,342.40L324.5,342.40L325.0,342.40L325.5,342.40L326.0,342.40L326.5,342.40L327.0,342.40L327.5,342.40L328.0,342.40L328.5,342.40L329.0,342.40L329.5,342.35L330.0,342.14L330.5,341.63L331.0,341.23L331.5,341.45L332.0,342.00L332.5,342.31L333.0,342.39L333.5,342.40L334.0,342.40L334.5,342.40L335.0,342.40L335.5,342.40L336.0,342.40L336.5,342.40L337.0,342.40L337.5,342.40L338.0,342.40L338.5,342.40L339.0,342.40L339.5,342.40L340.0,342.40L340.5,342.40L341.0,342.39L341.5,342.28L342.0,341.83L342.5,341.29L343.0,341.52L343.5,341.33L344.0,341.52L344.5,342.13L345.0,342.16L345.5,341.75L346.0,341.44L346.5,341.65L347.0,342.09L347.5,342.33L348.0,342.39L348.5,342.40L349.0,342.40L349.5,342.40L350.0,342.40L350.5,342.40L351.0,342.38L351.5,342.25L352.0,341.96L352.5,341.89L353.0,342.16L353.5,342.36L354.0,342.39L354.5,342.30L355.0,342.01L355.5,341.86L356.0,342.14L356.5,342.19L357.0,341.87L357.5,341.97L358.0,342.29L358.5,342.39L359.0,342.40L359.5,342.19L360.0,341.30L360.5,341.69L361.0,342.34L361.5,342.40L362.0,342.32L362.5,341.97L363.0,341.92L363.5,342.29L364.0,342.39L364.5,342.33L365.0,342.07L365.5,341.58L366.0,341.28L366.5,341.57L367.0,342.06L367.5,342.33L368.0,342.39L368.5,342.40L369.0,342.40L369.5,342.40L370.0,342.40L370.5,342.40L371.0,342.40L371.5,342.40L372.0,342.40L372.5,342.40L373.0,342.40L373.5,342.40L374.0,342.40L374.5,342.40L375.0,342.40L375.5,342.40L376.0,342.40L376.5,342.39L377.0,342.33L377.5,342.08L378.0,341.54L378.5,341.08L379.0,341.26L379.5,341.84L380.0,342.24L380.5,342.38L381.0,342.40L381.5,342.39L382.0,342.28L382.5,341.99L383.0,341.93L383.5,342.23L384.0,342.38L384.5,342.40L385.0,342.40L385.5,342.40L386.0,342.40L386.5,342.40L387.0,342.40L387.5,342.40L388.0,342.40L388.5,342.40L389.0,342.40L389.5,342.40L390.0,342.34L390.5,342.09L391.0,341.90L391.5,342.14L392.0,342.36L392.5,342.40L393.0,342.40L393.5,342.40L394.0,342.40L394.5,342.40L395.0,342.40L395.5,342.40L396.0,342.36L396.5,342.04L397.0,341.87L397.5,342.28L398.0,342.40L398.5,342.40L399.0,342.40L399.5,342.40L400.0,342.40L400.5,342.40L401.0,342.40L401.5,342.40L402.0,342.40L402.5,342.40L403.0,342.40L403.5,342.40L404.0,342.40L404.5,342.40L405.0,342.40L405.5,342.40L406.0,342.40L406.5,342.40L407.0,342.40L407.5,342.40L408.0,342.40L408.5,342.40L409.0,342.40L409.5,342.40L410.0,342.40L410.5,342.40L411.0,342.40L411.5,342.39L412.0,342.31L412.5,342.04L413.0,341.99L413.5,342.26L414.0,342.35L414.5,342.14L415.0,341.61L415.5,341.15L416.0,341.37L416.5,341.95L417.0,342.30L417.5,342.39L418.0,342.40L418.5,342.40L419.0,342.40L419.5,342.40L420.0,342.40L420.5,342.40L421.0,342.40L421.5,342.40L422.0,342.40L422.5,342.40L423.0,342.40L423.5,342.40L424.0,342.40L424.5,342.40L425.0,342.40L425.5,342.40L426.0,342.40L426.5,342.40L427.0,342.40L427.5,342.40L428.0,342.40L428.5,342.40L429.0,342.40L429.5,342.40L430.0,342.40L430.5,342.40L431.0,342.40L431.5,342.40L432.0,342.40L432.5,342.40L433.0,342.40L433.5,342.40L434.0,342.40L434.5,342.40L435.0,342.40L435.5,342.40L436.0,342.40L436.5,342.40L437.0,342.34L437.5,341.96L438.0,341.29L438.5,341.44L439.0,342.11L439.5,341.92L440.0,341.79L440.5,341.99L441.0,342.26L441.5,342.38L442.0,342.40L442.5,342.33L443.0,341.96L443.5,341.33L444.0,341.36L444.5,342.00L445.0,342.34L445.5,342.40L446.0,342.38L446.5,341.96L447.0,341.32L447.5,342.14L448.0,342.39L448.5,342.39L449.0,342.28L449.5,341.92L450.0,341.48L450.5,341.56L451.0,342.04L451.5,342.32L452.0,342.39L452.5,342.40L453.0,342.40L453.5,342.40L454.0,342.40L454.5,342.24L455.0,341.20L455.5,341.53L456.0,342.34L456.5,342.40L457.0,342.38L457.5,342.29L458.0,342.07L458.5,341.85L459.0,341.89L459.5,342.13L460.0,342.32L460.5,342.39L461.0,342.34L461.5,341.85L462.0,341.50L462.5,341.63L463.0,341.31L463.5,341.82L464.0,342.28L464.5,342.36L465.0,342.21L465.5,341.98L466.0,341.92L466.5,342.12L467.0,342.31L467.5,342.39L468.0,342.40L468.5,342.40L469.0,342.40L469.5,342.40L470.0,342.40L470.5,342.37L471.0,342.23L471.5,341.82L472.0,341.46L472.5,341.66L473.0,342.04L473.5,342.02L474.0,342.26L474.5,342.38L475.0,342.40L475.5,342.40L476.0,342.40L476.5,342.40L477.0,342.40L477.5,342.40L478.0,342.40L478.5,342.40L479.0,342.40L479.5,342.39L480.0,342.21L480.5,340.90L481.0,339.40L481.5,340.90L482.0,342.21L482.5,342.39L483.0,342.40L483.5,342.40L484.0,342.39L484.5,342.30L485.0,341.98L485.5,341.38L486.0,339.90L486.5,341.36L487.0,341.96L487.5,342.30L488.0,342.39L488.5,342.40L489.0,342.36L489.5,341.66L490.0,340.40L490.5,341.66L491.0,342.36L491.5,342.34L492.0,342.04L492.5,341.43L493.0,341.19L493.5,341.69L494.0,342.21L494.5,342.38L495.0,342.40L495.5,342.40L496.0,342.40L496.5,342.32L497.0,342.02L497.5,342.09L498.0,342.36L498.5,342.40L499.0,342.40L499.5,342.40L500.0,342.40L500.5,342.40L501.0,342.40L501.5,342.40L502.0,342.40L502.5,342.40L503.0,342.40L503.5,342.38L504.0,342.24L504.5,341.95L505.0,342.02L505.5,342.30L506.0,342.39L506.5,342.40L507.0,342.40L507.5,342.40L508.0,342.40L508.5,342.40L509.0,342.40L509.5,342.40L510.0,342.40L510.5,342.40L511.0,342.40L511.0,342.40Z" fill="#306a30"/>
<text x="66.4" y="350.0" font-size="7.9" text-anchor="end" font-weight="normal" font-style="normal" fill="#2a2a2a" style="color:#2a2a2a" >25</text>
<text x="66.4" y="359.6" font-size="7.9" text-anchor="end" font-weight="normal" font-style="normal" fill="#2a2a2a" style="color:#2a2a2a" >0</text>
<text x="70.0" y="350.0" font-size="6.6" text-anchor="start" font-weight="normal" font-style="normal" fill="#333" style="color:#333" >ERG</text>
<line x1="68.5" y1="360.6" x2="511" y2="360.6" stroke="#8a8a8a" stroke-width="1.0"/>
<path d="M68.5,360.60L68.5,360.60L69.0,360.60L69.5,360.60L70.0,360.60L70.5,360.60L71.0,360.60L71.5,360.60L72.0,360.60L72.5,360.60L73.0,360.60L73.5,360.60L74.0,360.60L74.5,360.60L75.0,360.60L75.5,360.60L76.0,360.60L76.5,360.60L77.0,360.60L77.5,360.60L78.0,360.60L78.5,360.60L79.0,360.60L79.5,360.60L80.0,360.60L80.5,360.60L81.0,360.60L81.5,360.60L82.0,360.60L82.5,360.59L83.0,360.54L83.5,360.35L84.0,360.12L84.5,360.13L85.0,360.37L85.5,360.54L86.0,360.59L86.5,360.60L87.0,360.60L87.5,360.60L88.0,360.60L88.5,360.60L89.0,360.60L89.5,360.60L90.0,360.60L90.5,360.60L91.0,360.60L91.5,360.60L92.0,360.60L92.5,360.60L93.0,360.60L93.5,360.60L94.0,360.60L94.5,360.59L95.0,360.52L95.5,360.26L96.0,359.93L96.5,360.01L97.0,360.37L97.5,360.56L98.0,360.60L98.5,360.60L99.0,360.60L99.5,360.60L100.0,360.60L100.5,360.60L101.0,360.60L101.5,360.60L102.0,360.60L102.5,360.57L103.0,360.41L103.5,360.10L104.0,360.06L104.5,360.36L105.0,360.56L105.5,360.60L106.0,360.60L106.5,360.60L107.0,360.60L107.5,360.60L108.0,360.60L108.5,360.60L109.0,360.60L109.5,360.60L110.0,360.60L110.5,360.60L111.0,360.60L111.5,360.60L112.0,360.60L112.5,360.60L113.0,360.60L113.5,360.60L114.0,360.60L114.5,360.60L115.0,360.60L115.5,360.60L116.0,360.60L116.5,360.60L117.0,360.60L117.5,360.60L118.0,360.60L118.5,360.60L119.0,360.60L119.5,360.60L120.0,360.60L120.5,360.60L121.0,360.60L121.5,360.60L122.0,360.60L122.5,360.60L123.0,360.60L123.5,360.60L124.0,360.60L124.5,360.60L125.0,360.60L125.5,360.60L126.0,360.60L126.5,360.60L127.0,360.60L127.5,360.60L128.0,360.60L128.5,360.60L129.0,360.60L129.5,360.60L130.0,360.60L130.5,360.60L131.0,360.60L131.5,360.60L132.0,360.60L132.5,360.60L133.0,360.60L133.5,360.60L134.0,360.60L134.5,360.60L135.0,360.60L135.5,360.60L136.0,360.59L136.5,360.55L137.0,360.39L137.5,360.18L138.0,360.16L138.5,360.36L139.0,360.53L139.5,360.59L140.0,360.60L140.5,360.60L141.0,360.60L141.5,360.60L142.0,360.60L142.5,360.60L143.0,360.60L143.5,360.60L144.0,360.60L144.5,360.58L145.0,360.44L145.5,360.05L146.0,359.80L146.5,360.08L147.0,360.45L147.5,360.58L148.0,360.60L148.5,360.60L149.0,360.60L149.5,360.57L150.0,360.26L150.5,359.85L151.0,360.33L151.5,359.96L152.0,359.93L152.5,360.42L153.0,360.59L153.5,360.60L154.0,360.60L154.5,360.59L155.0,360.52L155.5,360.27L156.0,359.97L156.5,360.02L157.0,360.35L157.5,360.55L158.0,360.59L158.5,360.60L159.0,360.60L159.5,360.60L160.0,360.60L160.5,360.60L161.0,360.60L161.5,360.60L162.0,360.60L162.5,360.60L163.0,360.60L163.5,360.60L164.0,360.60L164.5,360.58L165.0,360.38L165.5,360.12L166.0,360.41L166.5,360.59L167.0,360.60L167.5,360.60L168.0,360.60L168.5,360.60L169.0,360.60L169.5,360.60L170.0,360.60L170.5,360.60L171.0,360.60L171.5,360.60L172.0,360.60L172.5,360.60L173.0,360.60L173.5,360.60L174.0,360.60L174.5,360.57L175.0,360.43L175.5,360.12L176.0,360.02L176.5,360.30L177.0,360.53L177.5,360.59L178.0,360.60L178.5,360.60L179.0,360.60L179.5,360.60L180.0,360.60L180.5,360.60L181.0,360.60L181.5,360.60L182.0,360.60L182.5,360.60L183.0,360.60L183.5,360.60L184.0,360.60L184.5,360.60L185.0,360.60L185.5,360.57L186.0,360.40L186.5,359.92L187.0,359.51L187.5,359.77L188.0,360.30L188.5,360.55L189.0,360.50L189.5,360.30L190.0,360.07L190.5,360.08L191.0,360.31L191.5,360.51L192.0,360.59L192.5,360.60L193.0,360.60L193.5,360.60L194.0,360.60L194.5,360.60L195.0,360.60L195.5,360.60L196.0,360.60L196.5,360.60L197.0,360.60L197.5,360.60L198.0,360.53L198.5,360.11L199.0,359.43L199.5,359.67L200.0,359.98L200.5,359.13L201.0,351.69L201.5,350.09L202.0,358.22L202.5,359.84L203.0,360.37L203.5,360.55L204.0,360.59L204.5,360.60L205.0,360.60L205.5,360.60L206.0,360.60L206.5,360.60L207.0,360.60L207.5,360.58L208.0,360.45L208.5,360.03L209.0,359.56L209.5,359.68L210.0,360.21L210.5,360.52L211.0,360.59L211.5,360.50L212.0,360.13L212.5,359.75L213.0,360.00L213.5,360.44L214.0,360.58L214.5,360.60L215.0,360.60L215.5,360.60L216.0,360.60L216.5,360.60L217.0,360.60L217.5,360.60L218.0,360.60L218.5,360.60L219.0,360.60L219.5,360.60L220.0,360.60L220.5,360.60L221.0,360.60L221.5,360.60L222.0,360.60L222.5,360.60L223.0,360.60L223.5,360.60L224.0,360.60L224.5,360.60L225.0,360.60L225.5,360.60L226.0,360.60L226.5,360.60L227.0,360.60L227.5,360.58L228.0,360.34L228.5,360.08L229.0,360.48L229.5,360.60L230.0,360.60L230.5,360.60L231.0,360.60L231.5,360.60L232.0,360.60L232.5,360.60L233.0,360.60L233.5,360.60L234.0,360.60L234.5,360.60L235.0,360.60L235.5,360.60L236.0,360.60L236.5,360.60L237.0,360.60L237.5,360.52L238.0,360.05L238.5,359.82L239.0,360.39L239.5,360.59L240.0,360.60L240.5,360.60L241.0,360.60L241.5,360.60L242.0,360.60L242.5,360.60L243.0,360.56L243.5,360.40L244.0,360.18L244.5,360.21L245.0,360.43L245.5,360.57L246.0,360.57L246.5,360.43L247.0,360.13L247.5,359.83L248.0,359.87L248.5,360.21L249.0,360.48L249.5,360.58L250.0,360.60L250.5,360.56L251.0,359.86L251.5,358.60L252.0,359.86L252.5,360.56L253.0,360.60L253.5,360.60L254.0,360.60L254.5,360.60L255.0,360.60L255.5,360.60L256.0,360.60L256.5,360.60L257.0,360.60L257.5,360.60L258.0,360.60L258.5,360.60L259.0,360.60L259.5,360.60L260.0,360.60L260.5,360.60L261.0,360.60L261.5,360.60L262.0,360.60L262.5,360.60L263.0,360.59L263.5,360.54L264.0,360.34L264.5,360.01L265.0,359.93L265.5,360.22L266.0,360.49L266.5,360.06L267.0,357.36L267.5,357.95L268.0,360.31L268.5,360.60L269.0,360.60L269.5,360.60L270.0,360.60L270.5,360.60L271.0,360.60L271.5,360.60L272.0,360.60L272.5,360.60L273.0,360.60L273.5,360.58L274.0,360.43L274.5,360.01L275.0,359.50L275.5,359.54L276.0,360.06L276.5,360.46L277.0,360.51L277.5,360.24L278.0,359.77L278.5,359.54L279.0,359.85L279.5,360.31L280.0,360.04L280.5,360.37L281.0,360.58L281.5,360.60L282.0,360.60L282.5,360.60L283.0,360.60L283.5,360.60L284.0,360.60L284.5,360.60L285.0,360.60L285.5,360.60L286.0,360.60L286.5,360.60L287.0,360.60L287.5,360.60L288.0,360.60L288.5,360.60L289.0,360.60L289.5,360.60L290.0,360.60L290.5,360.60L291.0,360.60L291.5,360.60L292.0,360.60L292.5,360.60L293.0,360.58L293.5,360.29L294.0,359.68L294.5,360.13L295.0,360.56L295.5,360.60L296.0,360.60L296.5,360.60L297.0,360.60L297.5,360.60L298.0,360.57L298.5,360.41L299.0,360.17L299.5,360.23L300.0,360.45L300.5,360.10L301.0,359.84L301.5,360.08L302.0,360.44L302.5,360.58L303.0,360.60L303.5,360.60L304.0,360.60L304.5,360.60L305.0,360.60L305.5,360.60L306.0,360.60L306.5,360.60L307.0,360.60L307.5,360.60L308.0,360.60L308.5,360.60L309.0,360.60L309.5,360.60L310.0,360.60L310.5,360.60L311.0,360.60L311.5,360.60L312.0,360.60L312.5,360.60L313.0,360.60L313.5,360.60L314.0,360.60L314.5,360.60L315.0,360.60L315.5,360.60L316.0,360.60L316.5,360.60L317.0,360.60L317.5,360.60L318.0,360.60L318.5,360.60L319.0,360.60L319.5,360.60L320.0,360.60L320.5,360.60L321.0,360.60L321.5,360.60L322.0,360.60L322.5,360.59L323.0,360.53L323.5,360.32L324.0,360.19L324.5,360.38L325.0,360.56L325.5,360.60L326.0,360.60L326.5,360.60L327.0,360.60L327.5,360.55L328.0,360.22L328.5,359.76L329.0,360.06L329.5,360.50L330.0,360.59L330.5,360.60L331.0,360.60L331.5,360.60L332.0,360.60L332.5,360.60L333.0,360.60L333.5,360.60L334.0,360.60L334.5,360.60L335.0,360.60L335.5,360.60L336.0,360.60L336.5,360.60L337.0,360.60L337.5,360.60L338.0,360.60L338.5,360.60L339.0,360.60L339.5,360.60L340.0,360.60L340.5,360.60L341.0,360.60L341.5,360.60L342.0,360.60L342.5,360.60L343.0,360.60L343.5,360.50L344.0,360.01L344.5,360.04L345.0,360.51L345.5,360.60L346.0,360.60L346.5,360.60L347.0,360.60L347.5,360.60L348.0,360.60L348.5,360.60L349.0,360.60L349.5,360.60L350.0,360.60L350.5,360.60L351.0,360.60L351.5,360.60L352.0,360.60L352.5,360.58L353.0,360.49L353.5,360.25L354.0,359.94L354.5,359.90L355.0,360.18L355.5,360.46L356.0,360.57L356.5,360.60L357.0,360.60L357.5,360.60L358.0,360.60L358.5,360.60L359.0,360.60L359.5,360.60L360.0,360.59L360.5,360.49L361.0,360.13L361.5,359.54L362.0,359.32L362.5,359.77L363.0,360.31L363.5,360.54L364.0,360.59L364.5,360.60L365.0,360.60L365.5,360.60L366.0,360.60L366.5,360.60L367.0,360.60L367.5,360.60L368.0,360.55L368.5,360.19L369.0,359.57L369.5,359.78L370.0,360.39L370.5,360.58L371.0,360.60L371.5,360.60L372.0,360.60L372.5,360.60L373.0,360.60L373.5,360.57L374.0,360.39L374.5,359.90L375.0,359.66L375.5,360.08L376.0,360.48L376.5,360.59L377.0,360.60L377.5,360.60L378.0,360.60L378.5,360.60L379.0,360.60L379.5,360.60L380.0,360.60L380.5,360.60L381.0,360.58L381.5,360.20L382.0,359.47L382.5,360.04L383.0,360.55L383.5,360.60L384.0,360.60L384.5,360.60L385.0,360.60L385.5,360.57L386.0,360.35L386.5,359.75L387.0,359.65L387.5,360.24L388.0,360.55L388.5,360.60L389.0,360.56L389.5,360.39L390.0,360.01L390.5,359.71L391.0,359.89L391.5,360.29L392.0,360.53L392.5,360.59L393.0,360.52L393.5,360.02L394.0,359.53L394.5,360.08L395.0,360.53L395.5,360.60L396.0,360.60L396.5,360.60L397.0,360.60L397.5,360.60L398.0,360.60L398.5,360.60L399.0,360.60L399.5,360.60L400.0,360.50L400.5,359.96L401.0,359.51L401.5,360.11L402.0,360.54L402.5,360.55L403.0,360.31L403.5,359.88L404.0,359.81L404.5,360.22L405.0,359.70L405.5,359.53L406.0,360.22L406.5,360.56L407.0,360.60L407.5,360.60L408.0,360.60L408.5,360.60L409.0,360.60L409.5,360.60L410.0,360.60L410.5,360.60L411.0,360.60L411.5,360.60L412.0,360.60L412.5,360.60L413.0,360.60L413.5,360.60L414.0,360.60L414.5,360.60L415.0,360.60L415.5,360.60L416.0,360.60L416.5,360.60L417.0,360.60L417.5,360.60L418.0,360.60L418.5,360.60L419.0,360.60L419.5,360.60L420.0,360.60L420.5,360.60L421.0,360.60L421.5,360.60L422.0,360.60L422.5,360.60L423.0,360.60L423.5,360.60L424.0,360.60L424.5,360.60L425.0,360.60L425.5,360.60L426.0,360.60L426.5,360.60L427.0,360.60L427.5,360.60L428.0,360.60L428.5,360.58L429.0,360.47L429.5,360.13L430.0,359.65L430.5,359.52L431.0,359.93L431.5,360.37L432.0,360.55L432.5,360.60L433.0,360.60L433.5,360.60L434.0,360.60L434.5,360.60L435.0,360.60L435.5,360.60L436.0,360.60L436.5,360.60L437.0,360.60L437.5,360.60L438.0,360.60L438.5,360.60L439.0,360.60L439.5,360.60L440.0,360.60L440.5,360.60L441.0,360.60L441.5,360.60L442.0,360.60L442.5,360.60L443.0,360.60L443.5,360.60L444.0,360.60L444.5,360.60L445.0,360.60L445.5,360.60L446.0,360.60L446.5,360.60L447.0,360.60L447.5,360.60L448.0,360.60L448.5,360.60L449.0,360.60L449.5,360.60L450.0,360.60L450.5,360.56L451.0,360.44L451.5,360.23L452.0,360.11L452.5,360.24L453.0,360.46L453.5,360.57L454.0,360.60L454.5,360.60L455.0,360.60L455.5,360.60L456.0,360.60L456.5,360.60L457.0,360.60L457.5,360.60L458.0,360.60L458.5,360.60L459.0,360.60L459.5,360.60L460.0,360.60L460.5,360.60L461.0,360.60L461.5,360.60L462.0,360.60L462.5,360.60L463.0,360.60L463.5,360.60L464.0,360.60L464.5,360.60L465.0,360.60L465.5,360.60L466.0,360.60L466.5,360.60L467.0,360.60L467.5,360.60L468.0,360.60L468.5,360.60L469.0,360.59L469.5,360.33L470.0,359.76L470.5,360.36L471.0,360.59L471.5,360.60L472.0,360.60L472.5,360.60L473.0,360.60L473.5,360.60L474.0,360.60L474.5,360.60L475.0,360.58L475.5,360.18L476.0,359.55L476.5,360.28L477.0,360.59L477.5,360.53L478.0,360.36L478.5,360.19L479.0,360.26L479.5,360.47L480.0,360.58L480.5,360.53L481.0,360.08L481.5,358.91L482.0,358.10L482.5,358.91L483.0,360.08L483.5,360.53L484.0,360.60L484.5,360.60L485.0,360.60L485.5,360.60L486.0,360.60L486.5,360.60L487.0,360.60L487.5,360.60L488.0,360.60L488.5,360.60L489.0,360.60L489.5,360.60L490.0,360.60L490.5,360.60L491.0,360.60L491.5,360.60L492.0,360.60L492.5,360.60L493.0,360.60L493.5,360.59L494.0,360.52L494.5,360.36L495.0,360.20L495.5,360.26L496.0,360.45L496.5,360.56L497.0,360.60L497.5,360.60L498.0,360.60L498.5,360.60L499.0,360.60L499.5,360.60L500.0,360.60L500.5,360.60L501.0,360.60L501.5,360.60L502.0,360.60L502.5,360.60L503.0,360.60L503.5,360.60L504.0,360.60L504.5,360.60L505.0,360.60L505.5,360.60L506.0,360.60L506.5,360.60L507.0,360.60L507.5,360.60L508.0,360.60L508.5,360.60L509.0,360.60L509.5,360.60L510.0,360.60L510.5,360.60L511.0,360.60L511.0,360.60Z" fill="#306a30"/>
<text x="66.4" y="368.1" font-size="7.9" text-anchor="end" font-weight="normal" font-style="normal" fill="#2a2a2a" style="color:#2a2a2a" >25</text>
<text x="66.4" y="378.5" font-size="7.9" text-anchor="end" font-weight="normal" font-style="normal" fill="#2a2a2a" style="color:#2a2a2a" >0</text>
<text x="70.0" y="368.1" font-size="6.6" text-anchor="start" font-weight="normal" font-style="normal" fill="#333" style="color:#333" >RUNX1</text>
<line x1="68.5" y1="379.3" x2="511" y2="379.3" stroke="#8a8a8a" stroke-width="1.0"/>
<path d="M68.5,379.30L68.5,379.30L69.0,379.30L69.5,379.29L70.0,379.23L70.5,378.90L71.0,378.19L71.5,377.83L72.0,378.38L72.5,378.75L73.0,378.00L73.5,378.85L74.0,379.28L74.5,379.30L75.0,379.30L75.5,379.30L76.0,379.30L76.5,379.30L77.0,379.29L77.5,379.14L78.0,378.80L78.5,378.98L79.0,379.26L79.5,379.30L80.0,379.30L80.5,379.18L81.0,378.65L81.5,378.81L82.0,379.25L82.5,379.24L83.0,378.93L83.5,378.21L84.0,377.80L84.5,378.34L85.0,379.01L85.5,379.26L86.0,379.30L86.5,379.30L87.0,379.30L87.5,379.30L88.0,379.29L88.5,379.22L89.0,378.95L89.5,378.41L90.0,378.03L90.5,378.30L91.0,378.86L91.5,379.19L92.0,379.02L92.5,378.54L93.0,378.81L93.5,379.23L94.0,379.30L94.5,379.30L95.0,379.30L95.5,379.30L96.0,379.30L96.5,379.30L97.0,379.30L97.5,379.30L98.0,379.30L98.5,379.30L99.0,379.30L99.5,379.30L100.0,379.29L100.5,379.21L101.0,378.88L101.5,378.69L102.0,379.02L102.5,378.76L103.0,377.54L103.5,378.53L104.0,379.25L104.5,379.30L105.0,379.30L105.5,379.25L106.0,379.02L106.5,378.38L107.0,377.59L107.5,377.49L108.0,378.20L108.5,378.92L109.0,379.23L109.5,379.29L110.0,379.30L110.5,379.30L111.0,379.28L111.5,379.08L112.0,378.49L112.5,378.08L113.0,378.54L113.5,379.11L114.0,379.28L114.5,379.30L115.0,379.30L115.5,379.30L116.0,379.30L116.5,379.26L117.0,379.11L117.5,378.88L118.0,378.88L118.5,379.12L119.0,379.27L119.5,379.30L120.0,379.30L120.5,379.30L121.0,379.30L121.5,379.30L122.0,379.30L122.5,379.30L123.0,379.30L123.5,379.25L124.0,378.98L124.5,378.34L125.0,378.05L125.5,378.59L126.0,379.08L126.5,378.60L127.0,378.44L127.5,378.89L128.0,379.22L128.5,378.96L129.0,378.34L129.5,377.88L130.0,378.21L130.5,378.86L131.0,379.21L131.5,379.29L132.0,379.30L132.5,379.30L133.0,379.30L133.5,379.30L134.0,379.29L134.5,379.02L135.0,377.78L135.5,378.47L136.0,379.25L136.5,379.11L137.0,376.18L137.5,377.02L138.0,379.23L138.5,379.30L139.0,379.30L139.5,379.30L140.0,379.30L140.5,379.30L141.0,379.30L141.5,379.30L142.0,379.25L142.5,378.57L143.0,378.04L143.5,379.04L144.0,379.29L144.5,379.30L145.0,379.30L145.5,379.24L146.0,378.81L146.5,378.26L147.0,378.76L147.5,379.23L148.0,379.28L148.5,379.12L149.0,378.56L149.5,377.89L150.0,378.01L150.5,378.74L151.0,378.62L151.5,378.12L152.0,378.67L152.5,379.20L153.0,379.12L153.5,378.34L154.0,377.71L154.5,378.46L155.0,379.16L155.5,379.29L156.0,379.30L156.5,379.30L157.0,379.30L157.5,379.30L158.0,379.30L158.5,379.30L159.0,379.30L159.5,379.30L160.0,379.30L160.5,379.30L161.0,379.30L161.5,379.30L162.0,379.30L162.5,379.30L163.0,379.30L163.5,379.22L164.0,378.46L164.5,378.46L165.0,379.13L165.5,378.67L166.0,378.22L166.5,378.47L167.0,379.02L167.5,379.26L168.0,379.22L168.5,379.07L169.0,378.91L169.5,378.91L170.0,379.08L170.5,379.23L171.0,379.29L171.5,379.30L172.0,379.27L172.5,379.02L173.0,378.13L173.5,377.50L174.0,378.26L174.5,379.07L175.0,379.28L175.5,379.30L176.0,379.30L176.5,379.30L177.0,379.30L177.5,379.30L178.0,379.30L178.5,379.30L179.0,379.30L179.5,379.28L180.0,379.13L180.5,378.71L181.0,378.28L181.5,378.43L182.0,378.94L182.5,379.23L183.0,379.29L183.5,379.30L184.0,379.30L184.5,379.30L185.0,379.29L185.5,379.19L186.0,378.89L186.5,378.61L187.0,378.79L187.5,379.13L188.0,379.28L188.5,379.30L189.0,379.30L189.5,379.30L190.0,379.30L190.5,379.30L191.0,379.30L191.5,379.30L192.0,379.30L192.5,379.30L193.0,379.30L193.5,379.30L194.0,379.27L194.5,379.08L195.0,378.65L195.5,378.49L196.0,378.88L196.5,379.21L197.0,379.17L197.5,378.48L198.0,377.54L198.5,378.03L199.0,378.99L199.5,379.06L200.0,378.43L200.5,376.88L201.0,368.16L201.5,366.50L202.0,375.63L202.5,378.24L203.0,378.98L203.5,379.24L204.0,379.29L204.5,379.30L205.0,379.30L205.5,379.30L206.0,379.30L206.5,379.30L207.0,379.30L207.5,379.30L208.0,379.29L208.5,379.10L209.0,378.44L209.5,378.60L210.0,379.19L210.5,379.30L211.0,379.28L211.5,379.00L212.0,378.06L212.5,378.10L213.0,379.02L213.5,379.02L214.0,378.57L214.5,378.45L215.0,378.86L215.5,378.74L216.0,378.87L216.5,379.15L217.0,379.28L217.5,379.30L218.0,379.30L218.5,379.30L219.0,379.30L219.5,379.22L220.0,376.19L220.5,368.60L221.0,376.19L221.5,379.22L222.0,379.30L222.5,379.30L223.0,379.30L223.5,379.30L224.0,379.30L224.5,379.24L225.0,378.78L225.5,377.88L226.0,378.10L226.5,378.98L227.0,379.27L227.5,379.30L228.0,379.30L228.5,379.30L229.0,379.30L229.5,379.30L230.0,379.30L230.5,379.30L231.0,379.30L231.5,379.30L232.0,379.30L232.5,379.30L233.0,379.30L233.5,378.96L234.0,374.17L234.5,372.73L235.0,378.59L235.5,379.29L236.0,379.30L236.5,379.30L237.0,379.30L237.5,379.30L238.0,379.27L238.5,378.91L239.0,378.51L239.5,379.08L240.0,379.29L240.5,379.30L241.0,379.30L241.5,379.30L242.0,379.28L242.5,379.15L243.0,378.90L243.5,378.93L244.0,379.19L244.5,379.29L245.0,379.13L245.5,378.88L246.0,379.05L246.5,379.27L247.0,379.30L247.5,379.30L248.0,379.30L248.5,379.30L249.0,379.30L249.5,379.30L250.0,379.30L250.5,379.30L251.0,379.14L251.5,378.27L252.0,378.06L252.5,379.02L253.0,379.29L253.5,379.27L254.0,379.14L254.5,378.84L255.0,378.58L255.5,378.71L256.0,379.05L256.5,379.24L257.0,379.29L257.5,379.30L258.0,379.30L258.5,379.30L259.0,379.29L259.5,379.21L260.0,378.79L260.5,377.95L261.0,377.54L261.5,378.17L262.0,378.87L262.5,378.18L263.0,378.33L263.5,379.02L264.0,379.27L264.5,379.30L265.0,379.30L265.5,379.30L266.0,379.29L266.5,378.08L267.0,368.06L267.5,370.52L268.0,378.72L268.5,379.30L269.0,379.30L269.5,379.30L270.0,379.30L270.5,379.30L271.0,379.30L271.5,379.30L272.0,379.30L272.5,379.30L273.0,379.30L273.5,379.30L274.0,379.30L274.5,379.30L275.0,379.29L275.5,379.21L276.0,378.90L276.5,378.73L277.0,379.03L277.5,379.26L278.0,379.30L278.5,379.30L279.0,379.30L279.5,379.30L280.0,379.30L280.5,379.30L281.0,379.29L281.5,379.20L282.0,378.84L282.5,378.78L283.0,379.14L283.5,378.71L284.0,378.41L284.5,378.94L285.0,379.26L285.5,379.30L286.0,379.30L286.5,379.30L287.0,379.30L287.5,379.30L288.0,379.30L288.5,379.30L289.0,379.30L289.5,379.30L290.0,379.24L290.5,378.88L291.0,377.98L291.5,377.40L292.0,378.06L292.5,378.93L293.0,379.25L293.5,379.30L294.0,379.14L294.5,378.59L295.0,378.87L295.5,379.26L296.0,379.26L296.5,378.76L297.0,378.21L297.5,378.12L298.0,377.51L298.5,378.11L299.0,378.96L299.5,379.18L300.0,378.64L300.5,378.26L301.0,378.83L301.5,379.24L302.0,379.22L302.5,378.54L303.0,377.70L303.5,378.51L304.0,379.21L304.5,379.25L305.0,379.06L305.5,377.02L306.0,373.10L306.5,377.02L307.0,379.19L307.5,379.24L308.0,379.06L308.5,378.75L309.0,378.60L309.5,378.20L310.0,376.30L310.5,378.20L311.0,377.99L311.5,377.43L312.0,378.24L312.5,379.07L313.0,379.28L313.5,379.30L314.0,379.30L314.5,379.30L315.0,379.30L315.5,379.30L316.0,379.26L316.5,378.83L317.0,377.89L317.5,378.23L318.0,379.10L318.5,379.29L319.0,379.30L319.5,379.30L320.0,379.30L320.5,379.30L321.0,379.30L321.5,379.30L322.0,379.26L322.5,379.02L323.0,378.30L323.5,377.63L324.0,378.00L324.5,378.83L325.0,379.22L325.5,379.28L326.0,379.19L326.5,378.95L327.0,378.65L327.5,378.62L328.0,378.89L328.5,379.16L329.0,379.27L329.5,379.21L330.0,378.15L330.5,377.85L331.0,379.11L331.5,379.30L332.0,379.30L332.5,379.30L333.0,379.30L333.5,379.30L334.0,379.30L334.5,379.30L335.0,379.30L335.5,379.30L336.0,379.30L336.5,379.30L337.0,379.30L337.5,379.30L338.0,379.30L338.5,379.30L339.0,379.30L339.5,379.30L340.0,379.30L340.5,379.30L341.0,379.30L341.5,379.30L342.0,379.30L342.5,379.30L343.0,379.30L343.5,379.30L344.0,379.30L344.5,379.28L345.0,379.09L345.5,378.46L346.0,377.73L346.5,377.94L347.0,378.75L347.5,379.20L348.0,379.29L348.5,379.30L349.0,379.30L349.5,379.30L350.0,379.30L350.5,379.30L351.0,379.30L351.5,379.30L352.0,379.30L352.5,379.30L353.0,379.27L353.5,379.05L354.0,378.50L354.5,378.21L355.0,378.66L355.5,379.14L356.0,379.28L356.5,379.30L357.0,379.30L357.5,379.30L358.0,379.30L358.5,379.30L359.0,379.30L359.5,379.26L360.0,379.04L360.5,378.72L361.0,378.91L361.5,379.22L362.0,379.29L362.5,379.30L363.0,379.30L363.5,379.30L364.0,379.30L364.5,379.30L365.0,379.30L365.5,379.30L366.0,379.30L366.5,379.20L367.0,378.61L367.5,377.94L368.0,378.57L368.5,379.19L369.0,379.30L369.5,379.30L370.0,379.30L370.5,379.30L371.0,379.30L371.5,379.26L372.0,379.00L372.5,378.34L373.0,378.18L373.5,378.82L374.0,379.23L374.5,379.30L375.0,379.30L375.5,379.30L376.0,379.30L376.5,379.30L377.0,379.30L377.5,379.30L378.0,379.30L378.5,379.30L379.0,379.30L379.5,379.30L380.0,379.30L380.5,379.30L381.0,379.30L381.5,379.30L382.0,379.30L382.5,379.15L383.0,378.22L383.5,378.43L384.0,379.22L384.5,379.17L385.0,378.89L385.5,378.88L386.0,379.16L386.5,379.28L387.0,379.30L387.5,379.30L388.0,379.30L388.5,379.30L389.0,379.30L389.5,379.30L390.0,379.30L390.5,379.30L391.0,379.30L391.5,379.30L392.0,379.30L392.5,379.30L393.0,379.30L393.5,379.30L394.0,379.30L394.5,379.30L395.0,379.30L395.5,379.30L396.0,379.29L396.5,379.20L397.0,378.75L397.5,378.16L398.0,378.39L398.5,379.02L399.0,379.27L399.5,379.30L400.0,379.27L400.5,378.98L401.0,378.11L401.5,377.76L402.0,378.61L402.5,379.19L403.0,379.29L403.5,379.30L404.0,379.30L404.5,379.30L405.0,379.30L405.5,379.30L406.0,379.30L406.5,379.30L407.0,379.30L407.5,379.30L408.0,379.30L408.5,379.30L409.0,379.30L409.5,379.30L410.0,379.30L410.5,379.30L411.0,379.30L411.5,379.30L412.0,379.30L412.5,379.30L413.0,379.30L413.5,379.30L414.0,379.30L414.5,379.30L415.0,379.30L415.5,379.30L416.0,379.30L416.5,379.30L417.0,379.23L417.5,378.90L418.0,378.52L418.5,378.78L419.0,379.18L419.5,378.86L420.0,378.00L420.5,377.66L421.0,378.41L421.5,379.09L422.0,379.28L422.5,379.30L423.0,379.30L423.5,379.30L424.0,379.30L424.5,379.30L425.0,379.30L425.5,379.30L426.0,379.23L426.5,378.95L427.0,378.73L427.5,378.99L428.0,379.24L428.5,379.30L429.0,379.30L429.5,379.30L430.0,379.29L430.5,379.19L431.0,378.69L431.5,378.06L432.0,378.35L432.5,379.02L433.0,379.27L433.5,379.21L434.0,378.84L434.5,378.22L435.0,378.10L435.5,378.67L436.0,379.15L436.5,379.09L437.0,378.64L437.5,378.18L438.0,378.27L438.5,378.79L439.0,379.16L439.5,379.28L440.0,379.21L440.5,378.58L441.0,377.65L441.5,378.20L442.0,379.09L442.5,379.29L443.0,379.30L443.5,379.30L444.0,379.30L444.5,379.30L445.0,379.30L445.5,379.30L446.0,379.25L446.5,379.01L447.0,378.32L447.5,377.53L448.0,377.60L448.5,378.42L449.0,379.06L449.5,379.26L450.0,379.30L450.5,379.28L451.0,378.77L451.5,377.85L452.0,378.94L452.5,379.29L453.0,379.30L453.5,379.30L454.0,379.30L454.5,379.30L455.0,379.28L455.5,379.11L456.0,378.64L456.5,378.52L457.0,378.98L457.5,379.21L458.0,379.00L458.5,378.78L459.0,378.83L459.5,378.88L460.0,378.60L460.5,378.65L461.0,378.96L461.5,379.20L462.0,379.28L462.5,379.30L463.0,379.14L463.5,378.18L464.0,377.90L464.5,378.99L465.0,377.97L465.5,378.61L466.0,379.26L466.5,379.30L467.0,379.30L467.5,379.30L468.0,379.30L468.5,379.30L469.0,379.28L469.5,378.97L470.0,377.94L470.5,378.00L471.0,379.01L471.5,379.29L472.0,379.30L472.5,379.30L473.0,379.30L473.5,379.30L474.0,379.30L474.5,379.30L475.0,379.23L475.5,378.90L476.0,378.50L476.5,378.74L477.0,379.17L477.5,379.29L478.0,379.14L478.5,378.79L479.0,378.93L479.5,379.24L480.0,379.30L480.5,379.29L481.0,378.99L481.5,376.80L482.0,374.30L482.5,376.80L483.0,378.99L483.5,379.21L484.0,375.60L484.5,366.60L485.0,375.60L485.5,378.08L486.0,378.89L486.5,379.24L487.0,379.30L487.5,379.30L488.0,379.30L488.5,379.30L489.0,379.30L489.5,379.30L490.0,379.30L490.5,379.30L491.0,379.30L491.5,379.30L492.0,379.29L492.5,379.18L493.0,378.78L493.5,378.65L494.0,379.06L494.5,379.27L495.0,379.30L495.5,379.30L496.0,379.30L496.5,379.30L497.0,379.30L497.5,379.30L498.0,379.30L498.5,379.30L499.0,379.30L499.5,379.30L500.0,379.30L500.5,379.30L501.0,379.30L501.5,379.30L502.0,379.30L502.5,379.30L503.0,379.30L503.5,379.30L504.0,379.30L504.5,379.30L505.0,379.27L505.5,378.95L506.0,378.34L506.5,378.75L507.0,379.09L507.5,378.20L508.0,377.46L508.5,378.32L509.0,378.40L509.5,378.55L510.0,379.22L510.5,379.30L511.0,379.30L511.0,379.30Z" fill="#306a30"/>
<text x="66.4" y="387.1" font-size="7.9" text-anchor="end" font-weight="normal" font-style="normal" fill="#2a2a2a" style="color:#2a2a2a" >25</text>
<text x="66.4" y="396.7" font-size="7.9" text-anchor="end" font-weight="normal" font-style="normal" fill="#2a2a2a" style="color:#2a2a2a" >0</text>
<text x="70.0" y="387.1" font-size="6.6" text-anchor="start" font-weight="normal" font-style="normal" fill="#333" style="color:#333" >LMO2</text>
<line x1="68.5" y1="397.9" x2="511" y2="397.9" stroke="#8a8a8a" stroke-width="1.0"/>
<path d="M68.5,397.90L68.5,397.90L69.0,397.90L69.5,397.90L70.0,397.90L70.5,397.90L71.0,397.90L71.5,397.90L72.0,397.90L72.5,397.89L73.0,397.81L73.5,397.49L74.0,397.06L74.5,397.11L75.0,397.56L75.5,397.83L76.0,397.80L76.5,397.56L77.0,397.29L77.5,397.31L78.0,397.59L78.5,397.81L79.0,397.89L79.5,397.90L80.0,397.90L80.5,397.90L81.0,397.90L81.5,397.90L82.0,397.90L82.5,397.90L83.0,397.90L83.5,397.90L84.0,397.87L84.5,397.64L85.0,397.00L85.5,396.57L86.0,397.06L86.5,397.68L87.0,397.33L87.5,396.70L88.0,397.32L88.5,397.84L89.0,397.90L89.5,397.90L90.0,397.90L90.5,397.90L91.0,397.90L91.5,397.90L92.0,397.90L92.5,397.90L93.0,397.90L93.5,397.88L94.0,397.61L94.5,396.57L95.0,396.23L95.5,397.32L96.0,397.84L96.5,397.90L97.0,397.90L97.5,397.82L98.0,396.85L98.5,396.47L99.0,397.70L99.5,397.90L100.0,397.90L100.5,397.90L101.0,397.90L101.5,397.90L102.0,397.90L102.5,397.90L103.0,397.90L103.5,397.90L104.0,397.90L104.5,397.90L105.0,397.90L105.5,397.90L106.0,397.90L106.5,397.90L107.0,397.90L107.5,397.90L108.0,397.90L108.5,397.79L109.0,397.36L109.5,397.46L110.0,397.84L110.5,397.90L111.0,397.86L111.5,397.43L112.0,397.43L112.5,397.86L113.0,397.90L113.5,397.87L114.0,397.72L114.5,397.46L115.0,397.43L115.5,397.69L116.0,397.86L116.5,397.90L117.0,397.90L117.5,397.90L118.0,397.90L118.5,397.90L119.0,397.90L119.5,397.90L120.0,397.90L120.5,397.90L121.0,397.89L121.5,397.76L122.0,397.21L122.5,396.39L123.0,396.40L123.5,397.22L124.0,397.76L124.5,397.89L125.0,397.90L125.5,397.90L126.0,397.90L126.5,397.90L127.0,397.90L127.5,397.90L128.0,397.90L128.5,397.90L129.0,397.90L129.5,397.90L130.0,397.90L130.5,397.90L131.0,397.90L131.5,397.90L132.0,397.90L132.5,397.89L133.0,397.62L133.5,396.44L134.0,396.47L134.5,397.63L135.0,397.80L135.5,397.53L136.0,397.36L136.5,397.59L137.0,397.83L137.5,397.89L138.0,397.90L138.5,397.90L139.0,397.89L139.5,397.79L140.0,397.47L140.5,396.92L141.0,396.65L141.5,397.01L142.0,397.54L142.5,397.82L143.0,397.89L143.5,397.90L144.0,397.90L144.5,397.90L145.0,397.89L145.5,397.65L146.0,397.04L146.5,397.37L147.0,397.36L147.5,397.22L148.0,397.71L148.5,397.89L149.0,397.90L149.5,397.86L150.0,397.45L150.5,397.29L151.0,397.81L151.5,397.87L152.0,397.49L152.5,396.73L153.0,397.20L153.5,397.57L154.0,397.40L154.5,397.49L155.0,397.73L155.5,397.51L156.0,396.97L156.5,396.68L157.0,397.00L157.5,397.54L158.0,397.69L158.5,397.25L159.0,397.30L159.5,397.74L160.0,397.89L160.5,397.90L161.0,397.90L161.5,397.90L162.0,397.90L162.5,397.90L163.0,397.85L163.5,397.61L164.0,397.00L164.5,396.39L165.0,396.52L165.5,397.21L166.0,397.63L166.5,396.92L167.0,396.74L167.5,397.06L168.0,396.26L168.5,397.57L169.0,396.74L169.5,396.41L170.0,397.41L170.5,397.86L171.0,397.85L171.5,396.80L172.0,394.90L172.5,396.80L173.0,397.33L173.5,397.44L174.0,397.72L174.5,397.23L175.0,396.48L175.5,396.36L176.0,397.05L176.5,397.02L177.0,397.48L177.5,397.62L178.0,396.82L178.5,396.06L179.0,396.50L179.5,397.43L180.0,397.83L180.5,397.90L181.0,397.90L181.5,397.90L182.0,397.90L182.5,397.90L183.0,397.90L183.5,397.90L184.0,397.90L184.5,397.90L185.0,397.90L185.5,397.90L186.0,397.90L186.5,397.90L187.0,397.90L187.5,397.90L188.0,397.88L188.5,397.76L189.0,397.45L189.5,397.15L190.0,397.26L190.5,397.62L191.0,397.84L191.5,397.89L192.0,397.90L192.5,397.90L193.0,397.90L193.5,397.90L194.0,397.90L194.5,397.79L195.0,397.21L195.5,397.48L196.0,397.87L196.5,397.90L197.0,397.90L197.5,397.89L198.0,397.40L198.5,396.43L199.0,397.54L199.5,397.66L200.0,397.03L200.5,395.84L201.0,389.14L201.5,387.56L202.0,395.56L202.5,396.84L203.0,397.58L203.5,397.84L204.0,397.89L204.5,397.90L205.0,397.90L205.5,397.90L206.0,397.89L206.5,397.62L207.0,396.76L207.5,396.88L208.0,394.90L208.5,397.27L209.0,397.89L209.5,397.90L210.0,397.90L210.5,397.90L211.0,397.90L211.5,397.90L212.0,397.90L212.5,397.90L213.0,397.90L213.5,397.90L214.0,397.90L214.5,397.90L215.0,397.90L215.5,397.90L216.0,397.90L216.5,397.90L217.0,397.89L217.5,397.80L218.0,397.40L218.5,396.82L219.0,396.86L219.5,397.45L220.0,397.81L220.5,397.85L221.0,397.63L221.5,397.18L222.0,396.85L222.5,397.08L223.0,397.56L223.5,397.67L224.0,396.97L224.5,397.04L225.0,397.71L225.5,397.89L226.0,397.89L226.5,397.81L227.0,397.43L227.5,396.63L228.0,396.15L228.5,396.69L229.0,397.48L229.5,397.78L230.0,397.32L230.5,396.48L231.0,396.08L231.5,396.68L232.0,397.48L232.5,397.82L233.0,397.89L233.5,397.90L234.0,397.90L234.5,397.90L235.0,397.90L235.5,397.90L236.0,397.81L236.5,397.46L237.0,397.70L237.5,397.89L238.0,397.90L238.5,397.90L239.0,397.90L239.5,397.90L240.0,397.90L240.5,397.90L241.0,397.90L241.5,397.90L242.0,397.90L242.5,397.90L243.0,397.90L243.5,397.90L244.0,397.90L244.5,397.90L245.0,397.90L245.5,397.89L246.0,397.80L246.5,397.48L247.0,396.97L247.5,396.76L248.0,397.14L248.5,397.62L249.0,397.84L249.5,397.89L250.0,397.89L250.5,397.75L251.0,397.32L251.5,397.28L252.0,397.71L252.5,397.88L253.0,397.90L253.5,397.79L254.0,396.68L254.5,396.76L255.0,397.81L255.5,397.90L256.0,397.88L256.5,397.70L257.0,397.39L257.5,397.51L258.0,397.81L258.5,397.89L259.0,397.90L259.5,397.89L260.0,397.67L260.5,397.11L261.0,397.42L261.5,397.85L262.0,397.81L262.5,397.19L263.0,396.26L263.5,396.81L264.0,397.69L264.5,397.89L265.0,397.90L265.5,397.89L266.0,397.62L266.5,397.16L267.0,397.21L267.5,396.63L268.0,396.99L268.5,397.65L269.0,397.75L269.5,397.37L270.0,396.80L270.5,396.62L271.0,397.05L271.5,397.51L272.0,397.25L272.5,397.29L273.0,397.58L273.5,397.81L274.0,397.81L274.5,397.08L275.0,396.96L275.5,397.77L276.0,397.90L276.5,397.90L277.0,397.90L277.5,397.90L278.0,397.90L278.5,397.90L279.0,397.90L279.5,397.89L280.0,397.78L280.5,397.39L281.0,396.88L281.5,396.90L282.0,397.42L282.5,397.79L283.0,397.89L283.5,397.90L284.0,397.90L284.5,397.90L285.0,397.90L285.5,397.90L286.0,397.90L286.5,397.90L287.0,397.90L287.5,397.90L288.0,397.90L288.5,397.90L289.0,397.90L289.5,397.90L290.0,397.90L290.5,397.90L291.0,397.90L291.5,397.77L292.0,397.22L292.5,397.21L293.0,397.77L293.5,397.90L294.0,397.88L294.5,397.77L295.0,397.46L295.5,397.28L296.0,397.53L296.5,397.81L297.0,397.78L297.5,397.30L298.0,396.54L298.5,396.49L299.0,397.23L299.5,397.36L300.0,396.61L300.5,396.61L301.0,397.36L301.5,397.80L302.0,397.89L302.5,397.90L303.0,397.89L303.5,397.83L304.0,397.58L304.5,397.15L305.0,397.09L305.5,395.72L306.0,390.40L306.5,395.72L307.0,397.50L307.5,397.84L308.0,397.90L308.5,397.90L309.0,397.90L309.5,397.90L310.0,397.88L310.5,397.78L311.0,397.45L311.5,396.91L312.0,396.68L312.5,397.04L313.0,397.47L313.5,396.82L314.0,396.53L314.5,397.01L315.0,397.04L315.5,397.41L316.0,396.98L316.5,396.91L317.0,397.30L317.5,397.70L318.0,397.50L318.5,396.32L319.0,396.41L319.5,397.56L320.0,397.47L320.5,397.55L321.0,397.74L321.5,397.86L322.0,397.89L322.5,397.90L323.0,397.90L323.5,397.88L324.0,397.69L324.5,397.10L325.0,397.07L325.5,397.08L326.0,396.51L326.5,396.66L327.0,397.31L327.5,397.75L328.0,397.88L328.5,397.83L329.0,397.27L329.5,396.58L330.0,397.28L330.5,397.84L331.0,397.90L331.5,397.89L332.0,397.82L332.5,397.50L333.0,396.82L333.5,396.23L334.0,396.43L334.5,397.17L335.0,397.69L335.5,397.76L336.0,397.33L336.5,396.72L337.0,396.71L337.5,397.31L338.0,397.76L338.5,397.88L339.0,397.90L339.5,397.90L340.0,397.89L340.5,397.84L341.0,397.60L341.5,397.09L342.0,396.67L342.5,396.84L343.0,397.38L343.5,397.72L344.0,397.45L344.5,397.30L345.0,397.46L345.5,397.73L346.0,397.86L346.5,397.90L347.0,397.90L347.5,397.90L348.0,397.90L348.5,397.90L349.0,397.90L349.5,397.90L350.0,397.90L350.5,397.90L351.0,397.90L351.5,397.90L352.0,397.90L352.5,397.90L353.0,397.90L353.5,397.90L354.0,397.90L354.5,397.90L355.0,397.86L355.5,397.62L356.0,397.01L356.5,396.50L357.0,396.81L357.5,397.48L358.0,397.82L358.5,397.89L359.0,397.87L359.5,397.27L360.0,394.90L360.5,396.92L361.0,396.93L361.5,397.31L362.0,396.79L362.5,397.61L363.0,397.89L363.5,397.90L364.0,397.90L364.5,397.90L365.0,397.89L365.5,397.80L366.0,397.45L366.5,396.81L367.0,396.51L367.5,396.96L368.0,397.56L368.5,397.83L369.0,397.89L369.5,397.89L370.0,397.82L370.5,397.46L371.0,396.76L371.5,396.49L372.0,397.07L372.5,397.38L373.0,396.53L373.5,396.29L374.0,397.06L374.5,397.71L375.0,397.76L375.5,397.07L376.0,397.28L376.5,397.65L377.0,397.26L377.5,397.22L378.0,397.59L378.5,397.84L379.0,397.90L379.5,397.90L380.0,397.90L380.5,397.87L381.0,397.72L381.5,397.33L382.0,396.99L382.5,397.16L383.0,396.91L383.5,397.22L384.0,397.65L384.5,397.12L385.0,396.61L385.5,396.77L386.0,397.38L386.5,397.77L387.0,397.80L387.5,397.54L388.0,397.29L388.5,397.39L389.0,397.69L389.5,397.86L390.0,397.90L390.5,397.90L391.0,397.90L391.5,397.90L392.0,397.90L392.5,397.90L393.0,397.90L393.5,397.90L394.0,397.90L394.5,397.90L395.0,397.90L395.5,397.90L396.0,397.90L396.5,397.90L397.0,397.90L397.5,397.90L398.0,397.90L398.5,397.84L399.0,397.49L399.5,396.63L400.0,396.04L400.5,396.63L401.0,397.49L401.5,397.84L402.0,397.90L402.5,397.90L403.0,397.90L403.5,397.89L404.0,397.71L404.5,396.85L405.0,396.86L405.5,397.72L406.0,397.87L406.5,397.73L407.0,397.31L407.5,396.75L408.0,396.69L408.5,397.20L409.0,397.57L409.5,396.65L410.0,397.24L410.5,397.14L411.0,396.19L411.5,396.27L412.0,397.23L412.5,397.78L413.0,397.89L413.5,397.90L414.0,397.90L414.5,397.87L415.0,397.60L415.5,396.76L416.0,396.08L416.5,396.68L417.0,397.56L417.5,397.84L418.0,397.19L418.5,396.15L419.0,397.01L419.5,397.81L420.0,397.90L420.5,397.90L421.0,397.90L421.5,397.90L422.0,397.90L422.5,397.90L423.0,397.90L423.5,397.90L424.0,397.90L424.5,397.90L425.0,397.90L425.5,397.90L426.0,397.90L426.5,397.90L427.0,397.90L427.5,397.90L428.0,397.90L428.5,397.90L429.0,397.90L429.5,397.90L430.0,397.90L430.5,397.90L431.0,397.90L431.5,397.90L432.0,397.90L432.5,397.90L433.0,397.90L433.5,397.90L434.0,397.90L434.5,397.90L435.0,397.88L435.5,397.48L436.0,396.66L436.5,397.32L437.0,397.86L437.5,397.90L438.0,397.90L438.5,397.90L439.0,397.90L439.5,397.90L440.0,397.89L440.5,397.76L441.0,397.23L441.5,396.43L442.0,396.35L442.5,397.12L443.0,397.71L443.5,397.88L444.0,397.90L444.5,397.90L445.0,397.90L445.5,397.89L446.0,397.81L446.5,397.50L447.0,396.93L447.5,396.59L448.0,396.93L448.5,397.51L449.0,397.60L449.5,396.67L450.0,396.95L450.5,397.76L451.0,397.90L451.5,397.90L452.0,397.90L452.5,397.84L453.0,397.54L453.5,396.99L454.0,396.89L454.5,397.41L455.0,397.79L455.5,397.89L456.0,397.90L456.5,397.90L457.0,397.90L457.5,397.90L458.0,397.90L458.5,397.90L459.0,397.85L459.5,397.55L460.0,396.75L460.5,396.06L461.0,396.44L461.5,397.33L462.0,397.53L462.5,397.13L463.0,397.40L463.5,397.80L464.0,397.89L464.5,397.90L465.0,397.90L465.5,397.90L466.0,397.81L466.5,397.32L467.0,397.00L467.5,397.57L468.0,397.87L468.5,397.90L469.0,397.88L469.5,397.80L470.0,397.60L470.5,397.41L471.0,397.47L471.5,397.70L472.0,397.81L472.5,397.49L473.0,396.99L473.5,396.94L474.0,397.42L474.5,397.78L475.0,397.89L475.5,397.90L476.0,397.90L476.5,397.90L477.0,397.90L477.5,397.90L478.0,397.74L478.5,397.01L479.0,397.07L479.5,397.77L480.0,397.90L480.5,397.81L481.0,397.26L481.5,396.70L482.0,397.32L482.5,397.83L483.0,397.53L483.5,394.90L484.0,391.90L484.5,394.90L485.0,397.53L485.5,395.90L486.0,393.90L486.5,395.90L487.0,397.65L487.5,397.87L488.0,397.52L488.5,396.93L489.0,397.43L489.5,397.23L490.0,396.24L490.5,397.33L491.0,397.87L491.5,397.88L492.0,397.69L492.5,396.93L493.0,396.40L493.5,397.11L494.0,396.71L494.5,396.14L495.0,396.63L495.5,397.45L496.0,397.82L496.5,397.57L497.0,396.50L497.5,396.93L498.0,397.79L498.5,397.48L499.0,397.00L499.5,396.92L500.0,397.36L500.5,396.80L501.0,396.91L501.5,397.68L502.0,397.89L502.5,397.90L503.0,397.87L503.5,397.69L504.0,397.50L504.5,397.72L505.0,397.66L505.5,397.51L506.0,397.55L506.5,397.73L507.0,397.85L507.5,397.89L508.0,397.89L508.5,397.82L509.0,397.57L509.5,397.18L510.0,397.06L510.5,397.37L511.0,397.72L511.0,397.90Z" fill="#306a30"/>
<text x="66.4" y="405.1" font-size="7.9" text-anchor="end" font-weight="normal" font-style="normal" fill="#2a2a2a" style="color:#2a2a2a" >25</text>
<text x="66.4" y="416.2" font-size="7.9" text-anchor="end" font-weight="normal" font-style="normal" fill="#2a2a2a" style="color:#2a2a2a" >0</text>
<text x="70.0" y="405.1" font-size="6.6" text-anchor="start" font-weight="normal" font-style="normal" fill="#333" style="color:#333" >LYL1</text>
<line x1="68.5" y1="416.6" x2="511" y2="416.6" stroke="#8a8a8a" stroke-width="1.0"/>
<path d="M68.5,416.60L68.5,416.60L69.0,416.59L69.5,416.54L70.0,416.32L70.5,415.81L71.0,415.36L71.5,415.51L72.0,416.07L72.5,416.46L73.0,416.58L73.5,416.52L74.0,416.26L74.5,415.89L75.0,415.88L75.5,416.26L76.0,416.52L76.5,416.59L77.0,416.52L77.5,416.12L78.0,415.73L78.5,416.12L79.0,416.52L79.5,416.60L80.0,416.60L80.5,416.60L81.0,416.60L81.5,416.60L82.0,416.56L82.5,416.29L83.0,415.56L83.5,415.12L84.0,415.72L84.5,416.38L85.0,416.58L85.5,416.60L86.0,416.60L86.5,416.60L87.0,416.59L87.5,416.53L88.0,416.28L88.5,415.73L89.0,415.22L89.5,415.34L90.0,415.94L90.5,416.40L91.0,415.99L91.5,415.39L92.0,415.43L92.5,416.05L93.0,414.60L93.5,416.18L94.0,416.60L94.5,416.60L95.0,416.60L95.5,416.60L96.0,416.60L96.5,416.60L97.0,416.60L97.5,416.60L98.0,416.60L98.5,416.60L99.0,416.60L99.5,416.60L100.0,416.60L100.5,416.60L101.0,416.60L101.5,416.60L102.0,416.60L102.5,416.60L103.0,416.60L103.5,416.60L104.0,416.60L104.5,416.60L105.0,416.60L105.5,416.60L106.0,416.60L106.5,416.60L107.0,416.60L107.5,416.60L108.0,416.60L108.5,416.60L109.0,416.60L109.5,416.60L110.0,416.60L110.5,416.60L111.0,416.60L111.5,416.60L112.0,416.60L112.5,416.60L113.0,416.60L113.5,416.60L114.0,416.60L114.5,416.60L115.0,416.60L115.5,416.60L116.0,416.60L116.5,416.54L117.0,416.17L117.5,416.19L118.0,416.54L118.5,416.60L119.0,416.60L119.5,416.60L120.0,416.60L120.5,416.60L121.0,416.60L121.5,416.60L122.0,416.60L122.5,416.60L123.0,416.60L123.5,416.60L124.0,416.60L124.5,416.45L125.0,416.00L125.5,416.34L126.0,416.59L126.5,416.60L127.0,416.56L127.5,416.23L128.0,415.54L128.5,415.58L129.0,416.27L129.5,416.56L130.0,416.60L130.5,416.60L131.0,416.60L131.5,416.60L132.0,416.59L132.5,416.41L133.0,415.77L133.5,415.57L134.0,416.24L134.5,416.56L135.0,416.59L135.5,416.51L136.0,416.28L136.5,415.99L137.0,415.97L137.5,416.25L138.0,416.02L138.5,415.47L139.0,415.38L139.5,415.88L140.0,416.37L140.5,415.97L141.0,415.25L141.5,415.82L142.0,416.24L142.5,415.33L143.0,415.65L143.5,415.67L144.0,415.43L144.5,415.76L145.0,416.25L145.5,416.52L146.0,416.59L146.5,416.60L147.0,416.60L147.5,416.60L148.0,416.60L148.5,416.60L149.0,416.60L149.5,416.60L150.0,416.60L150.5,416.60L151.0,416.60L151.5,416.60L152.0,416.60L152.5,416.60L153.0,416.59L153.5,416.53L154.0,416.30L154.5,416.04L155.0,416.12L155.5,416.41L156.0,416.57L156.5,416.60L157.0,416.60L157.5,416.60L158.0,416.60L158.5,416.60L159.0,416.60L159.5,416.60L160.0,416.60L160.5,416.60L161.0,416.60L161.5,416.60L162.0,416.60L162.5,416.60L163.0,416.60L163.5,416.60L164.0,416.60L164.5,416.60L165.0,416.59L165.5,416.50L166.0,416.23L166.5,415.99L167.0,416.17L167.5,416.47L168.0,416.58L168.5,416.60L169.0,416.57L169.5,416.34L170.0,416.11L170.5,416.38L171.0,416.58L171.5,416.60L172.0,416.60L172.5,416.60L173.0,416.60L173.5,416.60L174.0,416.60L174.5,416.60L175.0,416.53L175.5,416.15L176.0,415.54L176.5,415.61L177.0,416.24L177.5,416.55L178.0,416.60L178.5,416.60L179.0,416.60L179.5,416.57L180.0,416.27L180.5,415.51L181.0,415.41L181.5,416.17L182.0,416.55L182.5,416.60L183.0,416.60L183.5,416.60L184.0,416.57L184.5,416.21L185.0,415.38L185.5,415.66L186.0,416.42L186.5,416.52L187.0,415.87L187.5,415.76L188.0,415.48L188.5,415.28L189.0,415.89L189.5,416.43L190.0,416.48L190.5,416.13L191.0,415.74L191.5,415.84L192.0,416.29L192.5,416.54L193.0,416.59L193.5,416.56L194.0,416.37L194.5,415.84L195.0,415.24L195.5,415.30L196.0,415.93L196.5,416.42L197.0,416.22L197.5,415.65L198.0,415.65L198.5,416.22L199.0,416.54L199.5,416.36L200.0,415.73L200.5,414.54L201.0,409.17L201.5,407.84L202.0,414.27L202.5,415.46L203.0,416.02L203.5,416.47L204.0,416.59L204.5,416.60L205.0,416.60L205.5,416.60L206.0,416.60L206.5,416.60L207.0,416.60L207.5,416.60L208.0,416.60L208.5,416.60L209.0,416.60L209.5,416.60L210.0,416.60L210.5,416.60L211.0,416.60L211.5,416.60L212.0,416.60L212.5,416.60L213.0,416.60L213.5,416.60L214.0,416.60L214.5,416.60L215.0,416.60L215.5,416.60L216.0,416.60L216.5,416.60L217.0,416.60L217.5,416.60L218.0,416.60L218.5,416.60L219.0,416.60L219.5,416.59L220.0,416.48L220.5,416.10L221.0,416.03L221.5,416.42L222.0,416.58L222.5,416.60L223.0,416.60L223.5,416.60L224.0,416.60L224.5,416.60L225.0,416.60L225.5,416.60L226.0,416.60L226.5,416.60L227.0,416.60L227.5,416.60L228.0,416.60L228.5,416.60L229.0,416.60L229.5,416.60L230.0,416.60L230.5,416.60L231.0,416.38L231.5,415.35L232.0,415.96L232.5,416.57L233.0,416.60L233.5,416.60L234.0,416.60L234.5,416.60L235.0,416.60L235.5,416.60L236.0,416.60L236.5,416.60L237.0,416.60L237.5,416.60L238.0,416.60L238.5,416.60L239.0,416.60L239.5,416.60L240.0,416.60L240.5,416.60L241.0,416.60L241.5,416.60L242.0,416.60L242.5,416.60L243.0,416.60L243.5,416.60L244.0,416.60L244.5,416.60L245.0,416.60L245.5,416.60L246.0,416.55L246.5,416.15L247.0,415.30L247.5,415.34L248.0,416.19L248.5,416.04L249.0,416.09L249.5,416.42L250.0,416.58L250.5,416.60L251.0,416.60L251.5,416.60L252.0,416.60L252.5,416.60L253.0,416.60L253.5,416.60L254.0,416.60L254.5,416.60L255.0,416.60L255.5,416.60L256.0,416.57L256.5,416.47L257.0,416.24L257.5,416.07L258.0,416.17L258.5,415.84L259.0,415.98L259.5,416.54L260.0,416.60L260.5,416.60L261.0,416.60L261.5,416.60L262.0,416.60L262.5,416.60L263.0,416.60L263.5,416.60L264.0,416.60L264.5,416.60L265.0,416.60L265.5,416.57L266.0,416.39L266.5,415.97L267.0,415.89L267.5,416.30L268.0,416.55L268.5,416.60L269.0,416.60L269.5,416.60L270.0,416.60L270.5,416.60L271.0,416.60L271.5,416.59L272.0,416.50L272.5,416.19L273.0,415.77L273.5,415.73L274.0,416.13L274.5,416.47L275.0,416.58L275.5,416.60L276.0,416.60L276.5,416.60L277.0,416.60L277.5,416.60L278.0,416.54L278.5,415.90L279.0,415.49L279.5,416.37L280.0,416.59L280.5,416.60L281.0,416.60L281.5,416.60L282.0,416.53L282.5,416.01L283.0,415.33L283.5,415.84L284.0,416.26L284.5,415.66L285.0,415.25L285.5,415.58L286.0,416.19L286.5,415.89L287.0,416.30L287.5,416.58L288.0,416.60L288.5,416.60L289.0,416.60L289.5,416.60L290.0,416.60L290.5,416.60L291.0,416.60L291.5,416.60L292.0,416.60L292.5,416.60L293.0,416.60L293.5,416.60L294.0,416.60L294.5,416.60L295.0,416.60L295.5,416.60L296.0,416.60L296.5,416.60L297.0,416.56L297.5,416.35L298.0,415.95L298.5,415.98L299.0,415.82L299.5,415.52L300.0,415.76L300.5,416.23L301.0,416.51L301.5,416.59L302.0,416.60L302.5,416.60L303.0,416.58L303.5,416.41L304.0,416.07L304.5,416.11L305.0,416.45L305.5,416.58L306.0,416.60L306.5,416.60L307.0,416.60L307.5,416.60L308.0,416.60L308.5,416.60L309.0,416.60L309.5,416.60L310.0,416.60L310.5,416.60L311.0,416.60L311.5,416.60L312.0,416.60L312.5,416.60L313.0,416.60L313.5,416.60L314.0,416.60L314.5,416.60L315.0,416.60L315.5,416.60L316.0,416.60L316.5,416.60L317.0,416.60L317.5,416.60L318.0,416.60L318.5,416.60L319.0,416.54L319.5,416.24L320.0,416.08L320.5,415.44L321.0,415.16L321.5,415.62L322.0,416.23L322.5,416.53L323.0,416.59L323.5,416.60L324.0,416.60L324.5,416.60L325.0,416.60L325.5,416.60L326.0,416.60L326.5,416.60L327.0,416.59L327.5,416.48L328.0,416.08L328.5,415.63L329.0,415.83L329.5,416.34L330.0,416.56L330.5,416.60L331.0,416.60L331.5,416.60L332.0,416.60L332.5,416.60L333.0,416.60L333.5,416.60L334.0,416.43L334.5,415.60L335.0,415.83L335.5,416.52L336.0,416.60L336.5,416.60L337.0,416.58L337.5,416.45L338.0,416.03L338.5,415.44L339.0,415.33L339.5,415.85L340.0,416.37L340.5,416.56L341.0,416.60L341.5,416.60L342.0,416.60L342.5,416.60L343.0,416.60L343.5,416.60L344.0,416.60L344.5,416.60L345.0,416.60L345.5,416.60L346.0,416.60L346.5,416.60L347.0,416.56L347.5,416.34L348.0,415.84L348.5,415.52L349.0,415.87L349.5,416.36L350.0,416.56L350.5,416.59L351.0,416.46L351.5,415.70L352.0,415.12L352.5,415.98L353.0,416.53L353.5,416.60L354.0,416.60L354.5,416.60L355.0,416.60L355.5,416.59L356.0,416.51L356.5,416.24L357.0,415.87L357.5,415.80L358.0,416.12L358.5,416.45L359.0,416.57L359.5,416.60L360.0,416.60L360.5,416.60L361.0,416.60L361.5,416.60L362.0,416.60L362.5,416.59L363.0,416.48L363.5,416.20L364.0,416.34L364.5,416.57L365.0,416.60L365.5,416.60L366.0,416.60L366.5,416.60L367.0,416.60L367.5,416.60L368.0,416.60L368.5,416.60L369.0,416.60L369.5,416.51L370.0,416.05L370.5,416.09L371.0,416.53L371.5,416.60L372.0,416.60L372.5,416.60L373.0,416.60L373.5,416.60L374.0,416.60L374.5,416.60L375.0,416.60L375.5,416.60L376.0,416.58L376.5,416.37L377.0,415.74L377.5,415.39L378.0,415.95L378.5,416.47L379.0,416.59L379.5,416.60L380.0,416.60L380.5,416.60L381.0,416.60L381.5,416.56L382.0,416.31L382.5,415.68L383.0,415.25L383.5,415.69L384.0,416.32L384.5,416.44L385.0,415.84L385.5,415.49L386.0,416.09L386.5,416.53L387.0,416.60L387.5,416.60L388.0,416.60L388.5,416.60L389.0,416.60L389.5,416.60L390.0,416.60L390.5,416.60L391.0,416.60L391.5,416.60L392.0,416.60L392.5,416.47L393.0,415.71L393.5,415.87L394.0,416.52L394.5,416.60L395.0,416.60L395.5,416.60L396.0,416.60L396.5,416.59L397.0,416.43L397.5,415.80L398.0,415.44L398.5,416.10L399.0,416.53L399.5,416.60L400.0,416.60L400.5,416.60L401.0,416.60L401.5,416.60L402.0,416.60L402.5,416.60L403.0,416.60L403.5,416.60L404.0,416.60L404.5,416.60L405.0,416.60L405.5,416.55L406.0,416.29L406.5,415.96L407.0,416.15L407.5,416.49L408.0,416.59L408.5,416.58L409.0,416.40L409.5,416.01L410.0,416.21L410.5,416.45L411.0,416.01L411.5,415.68L412.0,416.03L412.5,416.46L413.0,416.59L413.5,416.60L414.0,416.58L414.5,416.29L415.0,415.91L415.5,416.34L416.0,416.58L416.5,416.60L417.0,416.60L417.5,416.60L418.0,416.60L418.5,416.60L419.0,416.60L419.5,416.60L420.0,416.60L420.5,416.60L421.0,416.60L421.5,416.60L422.0,416.60L422.5,416.60L423.0,416.60L423.5,416.60L424.0,416.60L424.5,416.60L425.0,416.60L425.5,416.60L426.0,416.60L426.5,416.60L427.0,416.59L427.5,416.54L428.0,416.38L428.5,416.16L429.0,416.09L429.5,416.27L430.0,415.73L430.5,415.57L431.0,416.11L431.5,416.50L432.0,416.59L432.5,416.60L433.0,416.60L433.5,416.60L434.0,416.60L434.5,416.57L435.0,416.28L435.5,415.58L436.0,415.73L436.5,416.40L437.0,416.59L437.5,416.60L438.0,416.60L438.5,416.60L439.0,416.60L439.5,416.60L440.0,416.60L440.5,416.60L441.0,416.60L441.5,416.59L442.0,416.41L442.5,415.77L443.0,415.70L443.5,416.36L444.0,416.58L444.5,416.60L445.0,416.52L445.5,415.96L446.0,415.51L446.5,416.18L447.0,416.56L447.5,416.60L448.0,416.58L448.5,416.16L449.0,415.19L449.5,415.82L450.0,416.52L450.5,416.60L451.0,416.60L451.5,416.60L452.0,416.60L452.5,416.60L453.0,416.60L453.5,416.60L454.0,416.60L454.5,416.60L455.0,416.60L455.5,416.60L456.0,416.60L456.5,416.60L457.0,416.60L457.5,416.60L458.0,416.60L458.5,416.60L459.0,416.60L459.5,416.60L460.0,416.60L460.5,416.60L461.0,416.60L461.5,416.60L462.0,416.60L462.5,416.60L463.0,416.54L463.5,416.16L464.0,415.76L464.5,416.16L465.0,415.53L465.5,415.75L466.0,416.51L466.5,416.60L467.0,416.60L467.5,416.60L468.0,416.60L468.5,416.56L469.0,416.38L469.5,416.11L470.0,416.12L470.5,416.40L471.0,416.57L471.5,416.60L472.0,416.60L472.5,416.60L473.0,416.60L473.5,416.60L474.0,416.60L474.5,416.60L475.0,416.60L475.5,416.60L476.0,416.60L476.5,416.60L477.0,416.60L477.5,416.60L478.0,416.60L478.5,416.60L479.0,416.60L479.5,416.60L480.0,416.60L480.5,416.60L481.0,416.60L481.5,416.60L482.0,416.60L482.5,416.60L483.0,416.60L483.5,416.60L484.0,416.60L484.5,416.60L485.0,416.60L485.5,416.60L486.0,416.60L486.5,416.57L487.0,416.43L487.5,416.22L488.0,416.26L488.5,416.48L489.0,416.58L489.5,416.60L490.0,416.58L490.5,416.49L491.0,416.22L491.5,415.88L492.0,415.87L492.5,416.20L493.0,416.48L493.5,416.58L494.0,416.60L494.5,416.60L495.0,416.60L495.5,416.56L496.0,416.37L496.5,416.10L497.0,416.17L497.5,416.45L498.0,416.58L498.5,416.60L499.0,416.60L499.5,416.60L500.0,416.52L500.5,414.94L501.0,412.10L501.5,414.94L502.0,415.94L502.5,416.46L503.0,416.59L503.5,416.60L504.0,416.51L504.5,416.02L505.0,415.87L505.5,416.43L506.0,416.59L506.5,416.59L507.0,416.47L507.5,416.10L508.0,416.14L508.5,416.50L509.0,416.60L509.5,416.60L510.0,416.60L510.5,416.60L511.0,416.60L511.0,416.60Z" fill="#306a30"/>
<text x="202.5" y="426.4" font-size="5.8" text-anchor="middle" font-weight="normal" font-style="normal" fill="#1a1a1a" style="color:#1a1a1a" >+42Kb</text>
<text x="12.8" y="455.8" font-size="11.4" text-anchor="start" font-weight="bold" font-style="normal" fill="#1a1a1a" style="color:#1a1a1a" class="pl">D</text>
<text transform="translate(27.7,489.2) rotate(-90) scale(0.91,1)" font-size="9.4" text-anchor="middle" font-weight="normal" fill="#1a1a1a" style="color:#1a1a1a">ChIP-seq p300</text>
<text transform="translate(39.3,489.5) rotate(-90) scale(0.88,1)" font-size="9.6" text-anchor="middle" font-weight="normal" fill="#1a1a1a" style="color:#1a1a1a">MOLM-1</text>
<text transform="translate(51.7,489.5) rotate(-90) scale(0.93,1)" font-size="9.4" text-anchor="middle" font-weight="normal" fill="#1a1a1a" style="color:#1a1a1a">(Myeloid)</text>
<text x="66.3" y="488.5" font-size="8.0" text-anchor="end" font-weight="normal" font-style="normal" fill="#1a1a1a" style="color:#1a1a1a" >50</text>
<text x="66.3" y="502.4" font-size="8.0" text-anchor="end" font-weight="normal" font-style="normal" fill="#1a1a1a" style="color:#1a1a1a" >0</text>
<line x1="68.6" y1="482.5" x2="68.6" y2="501.2" stroke="#9a9a9a" stroke-width="1.0"/>
<line x1="73.5" y1="466.3" x2="115" y2="466.3" stroke="#2f2f94" stroke-width="0.8"/>
<rect x="73.1" y="463.3" width="0.8000000000000114" height="6" fill="#2f2f94"/>
<rect x="75.0" y="463.8" width="1.7000000000000028" height="5" fill="#2f2f94"/>
<rect x="77.7" y="463.8" width="1.2000000000000028" height="5" fill="#2f2f94"/>
<rect x="79.7" y="463.8" width="3.5" height="5" fill="#2f2f94"/>
<rect x="90.0" y="463.8" width="0.7000000000000028" height="5" fill="#2f2f94"/>
<rect x="114.5" y="463.3" width="0.7999999999999972" height="6" fill="#2f2f94"/>
<line x1="87" y1="465.1" x2="87" y2="467.5" stroke="#2f2f94" stroke-width="0.6"/>
<line x1="95" y1="465.1" x2="95" y2="467.5" stroke="#2f2f94" stroke-width="0.6"/>
<line x1="100" y1="465.1" x2="100" y2="467.5" stroke="#2f2f94" stroke-width="0.6"/>
<line x1="105" y1="465.1" x2="105" y2="467.5" stroke="#2f2f94" stroke-width="0.6"/>
<line x1="110" y1="465.1" x2="110" y2="467.5" stroke="#2f2f94" stroke-width="0.6"/>
<text x="93.8" y="475.7" font-size="8.1" text-anchor="middle" font-weight="normal" font-style="normal" fill="#1a1a1a" style="color:#1a1a1a" >SLC7A10</text>
<line x1="298.6" y1="465.9" x2="310.8" y2="465.9" stroke="#2f2f94" stroke-width="0.8"/>
<rect x="298.6" y="464.4" width="12.199999999999989" height="3.0" fill="#2f2f94"/>
<rect x="302.6" y="463.5" width="1.599999999999966" height="4.8" fill="#2f2f94"/>
<text x="307.6" y="475.4" font-size="8.0" text-anchor="middle" font-weight="normal" font-style="normal" fill="#1a1a1a" style="color:#1a1a1a" >CEBPA</text>
<line x1="481.9" y1="466.2" x2="504.4" y2="466.2" stroke="#2f2f94" stroke-width="0.8"/>
<rect x="496.3" y="464.7" width="8.099999999999966" height="3.0" fill="#2f2f94"/>
<rect x="495.7" y="463.95" width="0.8000000000000114" height="4.5" fill="#2f2f94"/>
<line x1="485" y1="465.0" x2="485" y2="467.4" stroke="#2f2f94" stroke-width="0.6"/>
<line x1="489" y1="465.0" x2="489" y2="467.4" stroke="#2f2f94" stroke-width="0.6"/>
<line x1="493" y1="465.0" x2="493" y2="467.4" stroke="#2f2f94" stroke-width="0.6"/>
<text x="496" y="475.8" font-size="8.2" text-anchor="middle" font-weight="normal" font-style="normal" fill="#1a1a1a" style="color:#1a1a1a" >CEBPG</text>
<text x="202.5" y="476.8" font-size="5.8" text-anchor="middle" font-weight="normal" font-style="normal" fill="#1a1a1a" style="color:#1a1a1a" >+42Kb</text>
<path d="M68.0,500.90L68.0,500.90L68.5,500.90L69.0,500.90L69.5,500.88L70.0,500.77L70.5,499.90L71.0,498.90L71.5,499.90L72.0,500.69L72.5,500.86L73.0,500.88L73.5,500.56L74.0,499.88L74.5,500.25L75.0,499.80L75.5,500.29L76.0,500.86L76.5,500.90L77.0,500.90L77.5,500.76L78.0,500.23L78.5,500.57L79.0,500.88L79.5,500.90L80.0,500.90L80.5,500.90L81.0,500.90L81.5,500.90L82.0,500.90L82.5,500.90L83.0,500.90L83.5,500.89L84.0,500.81L84.5,500.54L85.0,500.51L85.5,500.79L86.0,500.78L86.5,500.06L87.0,499.26L87.5,499.98L88.0,500.75L88.5,500.89L89.0,500.90L89.5,500.90L90.0,500.90L90.5,500.88L91.0,500.71L91.5,500.25L92.0,500.09L92.5,500.55L93.0,499.79L93.5,499.52L94.0,500.54L94.5,500.87L95.0,500.68L95.5,500.11L96.0,499.38L96.5,499.35L97.0,500.04L97.5,500.65L98.0,500.86L98.5,500.90L99.0,500.90L99.5,500.90L100.0,500.90L100.5,500.90L101.0,500.90L101.5,500.90L102.0,500.81L102.5,500.06L103.0,499.46L103.5,500.42L104.0,500.87L104.5,500.90L105.0,500.90L105.5,500.90L106.0,500.90L106.5,500.90L107.0,500.88L107.5,500.64L108.0,500.05L108.5,500.06L109.0,500.65L109.5,500.88L110.0,500.90L110.5,500.90L111.0,500.85L111.5,500.55L112.0,500.57L112.5,500.86L113.0,500.90L113.5,500.90L114.0,500.90L114.5,500.90L115.0,500.89L115.5,500.80L116.0,500.43L116.5,499.90L117.0,499.87L117.5,500.39L118.0,499.96L118.5,499.83L119.0,500.39L119.5,500.12L120.0,500.10L120.5,500.45L121.0,500.75L121.5,500.16L122.0,500.42L122.5,500.86L123.0,500.90L123.5,500.90L124.0,500.89L124.5,500.80L125.0,500.38L125.5,499.73L126.0,499.74L126.5,500.38L127.0,500.80L127.5,500.89L128.0,500.90L128.5,500.90L129.0,500.90L129.5,500.90L130.0,500.90L130.5,500.90L131.0,500.90L131.5,500.90L132.0,500.90L132.5,500.90L133.0,500.88L133.5,500.63L134.0,499.82L134.5,499.37L135.0,500.13L135.5,500.76L136.0,499.92L136.5,499.47L137.0,500.55L137.5,500.89L138.0,500.90L138.5,500.90L139.0,500.90L139.5,500.88L140.0,500.32L140.5,499.42L141.0,500.48L141.5,500.64L142.0,499.99L142.5,500.11L143.0,499.47L143.5,499.41L144.0,500.02L144.5,500.61L145.0,500.74L145.5,500.45L146.0,500.19L146.5,500.27L147.0,500.59L147.5,500.81L148.0,500.84L148.5,500.56L149.0,499.90L149.5,499.41L150.0,499.80L150.5,500.50L151.0,500.83L151.5,500.84L152.0,500.54L152.5,500.04L153.0,500.06L153.5,500.57L154.0,500.85L154.5,500.89L155.0,500.77L155.5,500.15L156.0,499.87L156.5,500.57L157.0,500.87L157.5,500.71L158.0,500.26L158.5,499.72L159.0,499.68L159.5,499.83L160.0,499.70L160.5,500.20L161.0,500.69L161.5,500.46L162.0,500.06L162.5,500.02L163.0,500.37L163.5,500.73L164.0,500.87L164.5,500.89L165.0,500.76L165.5,500.39L166.0,500.55L166.5,500.33L167.0,500.41L167.5,500.68L168.0,500.85L168.5,500.67L169.0,499.99L169.5,499.95L170.0,500.64L170.5,500.88L171.0,500.64L171.5,500.28L172.0,500.64L172.5,500.88L173.0,500.90L173.5,500.90L174.0,500.88L174.5,500.75L175.0,500.34L175.5,499.74L176.0,499.63L176.5,500.17L177.0,500.68L177.5,500.86L178.0,500.89L178.5,500.85L179.0,500.70L179.5,500.47L180.0,500.45L180.5,500.67L181.0,500.84L181.5,500.89L182.0,500.90L182.5,500.90L183.0,500.90L183.5,500.87L184.0,500.59L184.5,500.03L185.0,500.28L185.5,500.79L186.0,500.89L186.5,500.87L187.0,500.66L187.5,500.10L188.0,499.87L188.5,500.39L189.0,500.80L189.5,500.89L190.0,500.85L190.5,500.52L191.0,499.86L191.5,499.86L192.0,500.52L192.5,500.85L193.0,500.90L193.5,500.90L194.0,500.90L194.5,500.90L195.0,500.90L195.5,500.90L196.0,500.90L196.5,500.89L197.0,500.83L197.5,500.64L198.0,500.44L198.5,500.48L199.0,500.71L199.5,500.83L200.0,500.65L200.5,499.87L201.0,493.73L201.5,482.93L202.0,484.67L202.5,495.62L203.0,497.32L203.5,491.55L204.0,490.16L204.5,497.82L205.0,500.65L205.5,500.08L206.0,499.92L206.5,500.79L207.0,500.89L207.5,500.75L208.0,500.17L208.5,499.85L209.0,500.45L209.5,500.83L210.0,500.58L210.5,500.45L211.0,500.69L211.5,500.87L212.0,500.90L212.5,500.90L213.0,500.90L213.5,500.90L214.0,500.90L214.5,500.90L215.0,500.90L215.5,500.90L216.0,500.86L216.5,500.58L217.0,500.07L217.5,500.15L218.0,500.66L218.5,500.87L219.0,500.90L219.5,500.87L220.0,500.67L220.5,500.19L221.0,499.86L221.5,500.19L222.0,500.68L222.5,500.87L223.0,500.90L223.5,500.90L224.0,500.90L224.5,500.90L225.0,500.90L225.5,500.90L226.0,500.90L226.5,500.90L227.0,500.90L227.5,500.90L228.0,500.90L228.5,500.90L229.0,500.90L229.5,500.90L230.0,500.90L230.5,500.90L231.0,500.90L231.5,500.90L232.0,500.90L232.5,500.90L233.0,500.89L233.5,500.23L234.0,494.74L234.5,496.09L235.0,500.18L235.5,499.56L236.0,499.50L236.5,500.08L237.0,500.63L237.5,500.85L238.0,500.89L238.5,500.73L239.0,500.23L239.5,500.21L240.0,500.72L240.5,500.78L241.0,500.02L241.5,500.06L242.0,500.80L242.5,500.90L243.0,500.90L243.5,500.90L244.0,500.89L244.5,500.83L245.0,500.67L245.5,500.43L246.0,500.37L246.5,500.57L247.0,500.78L247.5,500.79L248.0,500.45L248.5,500.08L249.0,500.25L249.5,500.68L250.0,500.87L250.5,500.51L251.0,499.13L251.5,498.80L252.0,500.25L252.5,500.85L253.0,500.90L253.5,500.90L254.0,500.90L254.5,500.89L255.0,500.72L255.5,500.17L256.0,500.01L256.5,500.58L257.0,500.87L257.5,500.89L258.0,500.79L258.5,500.34L259.0,499.70L259.5,499.83L260.0,500.50L260.5,500.14L261.0,499.77L261.5,500.51L262.0,500.87L262.5,500.90L263.0,500.90L263.5,500.90L264.0,500.90L264.5,500.90L265.0,500.90L265.5,500.40L266.0,492.14L266.5,498.33L267.0,500.76L267.5,500.50L268.0,500.45L268.5,500.68L269.0,500.86L269.5,500.86L270.0,500.68L270.5,500.49L271.0,500.33L271.5,499.74L272.0,499.65L272.5,500.17L273.0,499.95L273.5,499.07L274.0,499.09L274.5,499.99L275.0,500.67L275.5,500.53L276.0,500.13L276.5,500.40L277.0,500.77L277.5,500.28L278.0,499.35L278.5,498.90L279.0,499.57L279.5,500.44L280.0,500.82L280.5,500.89L281.0,500.89L281.5,500.83L282.0,500.19L282.5,498.02L283.0,499.32L283.5,500.59L284.0,500.81L284.5,500.88L285.0,500.90L285.5,500.88L286.0,500.69L286.5,499.91L287.0,498.94L287.5,499.29L288.0,500.35L288.5,500.82L289.0,500.32L289.5,499.08L290.0,499.35L290.5,500.54L291.0,500.11L291.5,499.94L292.0,500.40L292.5,500.79L293.0,500.89L293.5,500.85L294.0,500.63L294.5,500.37L295.0,500.52L295.5,500.80L296.0,500.89L296.5,500.84L297.0,500.24L297.5,500.13L298.0,499.51L298.5,499.18L299.0,499.97L299.5,498.94L300.0,498.85L300.5,500.09L301.0,500.78L301.5,500.89L302.0,500.90L302.5,500.90L303.0,500.88L303.5,500.79L304.0,500.45L304.5,498.17L305.0,498.67L305.5,500.41L306.0,499.84L306.5,500.03L307.0,500.63L307.5,500.81L308.0,500.27L308.5,499.25L309.0,499.36L309.5,500.38L310.0,500.84L310.5,500.90L311.0,500.90L311.5,500.90L312.0,500.90L312.5,500.90L313.0,500.90L313.5,500.90L314.0,500.87L314.5,500.68L315.0,500.08L315.5,499.20L316.0,499.01L316.5,499.76L317.0,500.53L317.5,500.83L318.0,500.89L318.5,500.90L319.0,500.90L319.5,500.89L320.0,500.82L320.5,500.51L321.0,499.84L321.5,499.29L322.0,499.56L322.5,500.28L323.0,500.74L323.5,500.79L324.0,500.42L324.5,500.05L325.0,500.27L325.5,500.70L326.0,500.87L326.5,500.90L327.0,500.90L327.5,500.90L328.0,500.89L328.5,500.81L329.0,500.31L329.5,499.43L330.0,499.52L330.5,500.41L331.0,500.83L331.5,500.86L332.0,500.56L332.5,499.69L333.0,499.22L333.5,500.00L334.0,500.71L334.5,500.88L335.0,500.90L335.5,500.90L336.0,500.90L336.5,500.90L337.0,500.90L337.5,500.90L338.0,500.86L338.5,500.66L339.0,500.40L339.5,500.57L340.0,500.15L340.5,499.44L341.0,500.10L341.5,500.13L342.0,499.99L342.5,500.47L343.0,500.82L343.5,500.61L344.0,499.79L344.5,499.31L345.0,500.05L345.5,500.73L346.0,500.89L346.5,500.89L347.0,500.76L347.5,500.39L348.0,500.50L348.5,500.75L349.0,500.26L349.5,499.60L350.0,499.64L350.5,500.31L351.0,500.77L351.5,500.74L352.0,500.20L352.5,499.99L353.0,500.55L353.5,500.81L354.0,500.37L354.5,499.82L355.0,500.15L355.5,500.72L356.0,500.89L356.5,500.90L357.0,500.90L357.5,500.90L358.0,500.90L358.5,500.90L359.0,500.90L359.5,500.90L360.0,500.90L360.5,500.90L361.0,500.90L361.5,500.90L362.0,500.90L362.5,500.90L363.0,500.90L363.5,500.89L364.0,500.58L364.5,499.99L365.0,500.68L365.5,500.84L366.0,500.62L366.5,500.15L367.0,499.77L367.5,499.92L368.0,500.09L368.5,499.57L369.0,499.79L369.5,500.43L370.0,500.54L370.5,500.13L371.0,500.05L371.5,500.42L372.0,500.76L372.5,500.38L373.0,500.00L373.5,500.24L374.0,500.69L374.5,500.87L375.0,500.90L375.5,500.90L376.0,500.90L376.5,500.90L377.0,500.90L377.5,500.90L378.0,500.90L378.5,500.90L379.0,500.87L379.5,500.69L380.0,500.14L380.5,499.54L381.0,499.68L381.5,500.36L382.0,500.78L382.5,500.81L383.0,500.46L383.5,499.79L384.0,499.40L384.5,499.82L385.0,499.82L385.5,500.05L386.0,500.79L386.5,500.90L387.0,500.88L387.5,500.64L388.0,499.83L388.5,499.80L389.0,500.51L389.5,499.99L390.0,499.91L390.5,500.40L391.0,500.78L391.5,500.89L392.0,500.89L392.5,500.72L393.0,500.12L393.5,500.27L394.0,500.24L394.5,499.60L395.0,500.10L395.5,500.75L396.0,500.89L396.5,500.90L397.0,500.87L397.5,500.66L398.0,500.02L398.5,499.56L399.0,500.06L399.5,500.69L400.0,500.21L400.5,499.29L401.0,499.80L401.5,500.68L402.0,500.88L402.5,500.64L403.0,500.10L403.5,500.22L404.0,500.74L404.5,500.89L405.0,500.80L405.5,500.38L406.0,499.92L406.5,500.21L407.0,500.72L407.5,500.88L408.0,500.67L408.5,500.01L409.0,500.18L409.5,500.78L410.0,500.87L410.5,500.69L411.0,500.41L411.5,500.50L412.0,500.79L412.5,500.89L413.0,500.90L413.5,500.88L414.0,500.54L414.5,500.26L415.0,500.42L415.5,499.86L416.0,499.73L416.5,500.21L417.0,500.31L417.5,499.85L418.0,500.63L418.5,500.89L419.0,500.90L419.5,500.90L420.0,500.90L420.5,500.90L421.0,500.90L421.5,500.90L422.0,500.86L422.5,500.65L423.0,500.27L423.5,500.25L424.0,500.09L424.5,499.75L425.0,500.07L425.5,500.60L426.0,500.84L426.5,500.81L427.0,500.55L427.5,500.19L428.0,500.11L428.5,500.43L429.0,500.75L429.5,500.77L430.0,500.29L430.5,499.54L431.0,499.42L431.5,500.11L432.0,500.70L432.5,500.75L433.0,499.69L433.5,499.64L434.0,500.74L434.5,500.90L435.0,500.90L435.5,500.90L436.0,500.90L436.5,500.90L437.0,500.90L437.5,500.90L438.0,500.90L438.5,500.85L439.0,500.55L439.5,500.29L440.0,500.60L440.5,500.86L441.0,500.90L441.5,500.90L442.0,500.90L442.5,500.90L443.0,500.90L443.5,500.90L444.0,500.89L444.5,500.78L445.0,500.45L445.5,500.47L446.0,500.79L446.5,500.89L447.0,500.90L447.5,500.90L448.0,500.89L448.5,500.82L449.0,500.59L449.5,500.36L450.0,500.48L450.5,500.76L451.0,500.43L451.5,500.06L452.0,500.11L452.5,500.51L453.0,500.80L453.5,500.89L454.0,500.90L454.5,500.90L455.0,500.89L455.5,500.70L456.0,500.05L456.5,499.85L457.0,500.53L457.5,500.30L458.0,500.16L458.5,500.66L459.0,500.88L459.5,500.90L460.0,500.90L460.5,500.86L461.0,500.61L461.5,500.49L462.0,500.78L462.5,500.89L463.0,500.90L463.5,500.85L464.0,500.37L464.5,499.64L465.0,500.27L465.5,500.83L466.0,500.80L466.5,500.31L467.0,499.60L467.5,499.83L468.0,500.57L468.5,500.17L469.0,499.74L469.5,499.96L470.0,500.51L470.5,500.81L471.0,500.54L471.5,500.17L472.0,500.11L472.5,500.43L473.0,500.75L473.5,500.83L474.0,500.54L474.5,499.92L475.0,499.62L475.5,500.08L476.0,500.64L476.5,500.86L477.0,499.95L477.5,497.06L478.0,498.79L478.5,500.74L479.0,499.65L479.5,498.40L480.0,499.65L480.5,499.62L481.0,499.34L481.5,500.40L482.0,500.86L482.5,500.90L483.0,500.88L483.5,500.60L484.0,499.81L484.5,499.98L485.0,500.72L485.5,500.89L486.0,500.90L486.5,500.90L487.0,500.90L487.5,500.90L488.0,500.90L488.5,500.90L489.0,500.90L489.5,500.90L490.0,500.90L490.5,500.90L491.0,500.90L491.5,500.90L492.0,500.90L492.5,500.90L493.0,500.90L493.5,500.90L494.0,500.90L494.5,500.90L495.0,500.90L495.5,500.90L496.0,500.90L496.5,500.89L497.0,500.75L497.5,500.18L498.0,499.59L498.5,500.03L499.0,500.69L499.5,500.88L500.0,500.90L500.5,500.90L501.0,500.90L501.5,500.90L502.0,500.90L502.5,500.90L503.0,500.90L503.5,500.90L504.0,500.90L504.5,500.81L505.0,500.23L505.5,500.14L506.0,500.02L506.5,499.97L507.0,500.42L507.0,500.90Z" fill="#23237a"/>
<line x1="68" y1="500.9" x2="507" y2="500.9" stroke="#23237a" stroke-width="0.9"/>
<text x="13.1" y="543.5" font-size="11.4" text-anchor="start" font-weight="bold" font-style="normal" fill="#1a1a1a" style="color:#1a1a1a" class="pl">E</text>
<text transform="translate(56.8,589.0) rotate(-90)" font-size="9.0" text-anchor="middle" font-weight="normal" fill="#1a1a1a" style="color:#1a1a1a">Fold p300 enrichment</text>
<text transform="translate(67.1,588.9) rotate(-90)" font-size="8.8" text-anchor="middle" font-weight="normal" fill="#1a1a1a" style="color:#1a1a1a">(relative to IgG)</text>
<line x1="90" y1="539.6" x2="90" y2="638.9" stroke="#1a1a1a" stroke-width="1.1"/>
<line x1="86.8" y1="542.4" x2="90" y2="542.4" stroke="#1a1a1a" stroke-width="1"/>
<text x="84" y="545.1" font-size="8.1" text-anchor="end" font-weight="normal" font-style="normal" fill="#1a1a1a" style="color:#1a1a1a" >30</text>
<line x1="86.8" y1="574.2" x2="90" y2="574.2" stroke="#1a1a1a" stroke-width="1"/>
<text x="84" y="576.9000000000001" font-size="8.1" text-anchor="end" font-weight="normal" font-style="normal" fill="#1a1a1a" style="color:#1a1a1a" >20</text>
<line x1="86.8" y1="606.3" x2="90" y2="606.3" stroke="#1a1a1a" stroke-width="1"/>
<text x="84" y="609.0" font-size="8.1" text-anchor="end" font-weight="normal" font-style="normal" fill="#1a1a1a" style="color:#1a1a1a" >10</text>
<line x1="86.8" y1="638.3" x2="90" y2="638.3" stroke="#1a1a1a" stroke-width="1"/>
<text x="84" y="641.0" font-size="8.1" text-anchor="end" font-weight="normal" font-style="normal" fill="#1a1a1a" style="color:#1a1a1a" >0</text>
<line x1="89.5" y1="638.3" x2="346.2" y2="638.3" stroke="#1a1a1a" stroke-width="1.1"/>
<rect x="96.6" y="558.3" width="8.0" height="79.5" fill="#2c4279"/>
<rect x="108.39999999999999" y="635.4999999999999" width="8.2" height="2.300000000000068" fill="#c8c8c8"/>
<line x1="106.3" y1="638.3" x2="106.3" y2="641.6" stroke="#1a1a1a" stroke-width="1"/>
<text x="106.19999999999999" y="651.0" font-size="8.2" text-anchor="middle" font-weight="normal" font-style="normal" fill="#1a1a1a" style="color:#1a1a1a" >MOLM-1</text>
<rect x="128.32" y="566.3" width="8.0" height="71.5" fill="#2c4279"/>
<rect x="140.12" y="635.4999999999999" width="8.2" height="2.300000000000068" fill="#c8c8c8"/>
<line x1="138.01999999999998" y1="638.3" x2="138.01999999999998" y2="641.6" stroke="#1a1a1a" stroke-width="1"/>
<text x="137.92" y="651.0" font-size="8.2" text-anchor="middle" font-weight="normal" font-style="normal" fill="#1a1a1a" style="color:#1a1a1a" >HL-60</text>
<rect x="160.04" y="584.54" width="8.0" height="53.25999999999999" fill="#2c4279"/>
<rect x="171.84" y="635.4999999999999" width="8.2" height="2.300000000000068" fill="#c8c8c8"/>
<line x1="169.73999999999998" y1="638.3" x2="169.73999999999998" y2="641.6" stroke="#1a1a1a" stroke-width="1"/>
<text x="169.64" y="651.0" font-size="8.2" text-anchor="middle" font-weight="normal" font-style="normal" fill="#1a1a1a" style="color:#1a1a1a" >U937</text>
<rect x="191.76" y="575.26" width="8.0" height="62.539999999999964" fill="#2c4279"/>
<rect x="203.56" y="635.4999999999999" width="8.2" height="2.300000000000068" fill="#c8c8c8"/>
<line x1="201.45999999999998" y1="638.3" x2="201.45999999999998" y2="641.6" stroke="#1a1a1a" stroke-width="1"/>
<text x="201.35999999999999" y="651.0" font-size="8.2" text-anchor="middle" font-weight="normal" font-style="normal" fill="#1a1a1a" style="color:#1a1a1a" >THP-1</text>
<rect x="223.48" y="630.9399999999999" width="8.0" height="6.860000000000014" fill="#2c4279"/>
<rect x="235.28" y="635.4999999999999" width="8.2" height="2.300000000000068" fill="#c8c8c8"/>
<line x1="233.17999999999998" y1="638.3" x2="233.17999999999998" y2="641.6" stroke="#1a1a1a" stroke-width="1"/>
<text x="233.07999999999998" y="651.0" font-size="8.2" text-anchor="middle" font-weight="normal" font-style="normal" fill="#1a1a1a" style="color:#1a1a1a" >Jurkat</text>
<rect x="255.2" y="633.18" width="8.0" height="4.6200000000000045" fill="#2c4279"/>
<rect x="267.0" y="635.4999999999999" width="8.2" height="2.300000000000068" fill="#c8c8c8"/>
<line x1="264.9" y1="638.3" x2="264.9" y2="641.6" stroke="#1a1a1a" stroke-width="1"/>
<text x="264.8" y="651.0" font-size="8.2" text-anchor="middle" font-weight="normal" font-style="normal" fill="#1a1a1a" style="color:#1a1a1a" >Raji</text>
<rect x="286.91999999999996" y="636.6999999999999" width="8.0" height="1.1000000000000227" fill="#2c4279"/>
<rect x="298.71999999999997" y="635.4999999999999" width="8.2" height="2.300000000000068" fill="#c8c8c8"/>
<line x1="296.61999999999995" y1="638.3" x2="296.61999999999995" y2="641.6" stroke="#1a1a1a" stroke-width="1"/>
<text x="296.52" y="651.0" font-size="8.2" text-anchor="middle" font-weight="normal" font-style="normal" fill="#1a1a1a" style="color:#1a1a1a" >H292</text>
<rect x="318.64" y="635.74" width="8.0" height="2.0599999999999454" fill="#2c4279"/>
<rect x="330.44" y="635.4999999999999" width="8.2" height="2.300000000000068" fill="#c8c8c8"/>
<line x1="328.34" y1="638.3" x2="328.34" y2="641.6" stroke="#1a1a1a" stroke-width="1"/>
<text x="328.24" y="651.0" font-size="8.2" text-anchor="middle" font-weight="normal" font-style="normal" fill="#1a1a1a" style="color:#1a1a1a" >HeLa</text>
<rect x="263.4" y="544.5" width="18.5" height="4.9" fill="#2c4279"/>
<text x="284.3" y="549.6" font-size="7.7" text-anchor="start" font-weight="normal" font-style="normal" fill="#1a1a1a" style="color:#1a1a1a" >+42Kb enhancer</text>
<rect x="263.4" y="555.9" width="18.5" height="4.5" fill="#c8c8c8"/>
<text x="284.6" y="560.3" font-size="7.7" text-anchor="start" font-weight="normal" font-style="normal" fill="#1a1a1a" style="color:#1a1a1a" >IgG</text>
</svg>
<div id="frame"></div>
</body></html>
